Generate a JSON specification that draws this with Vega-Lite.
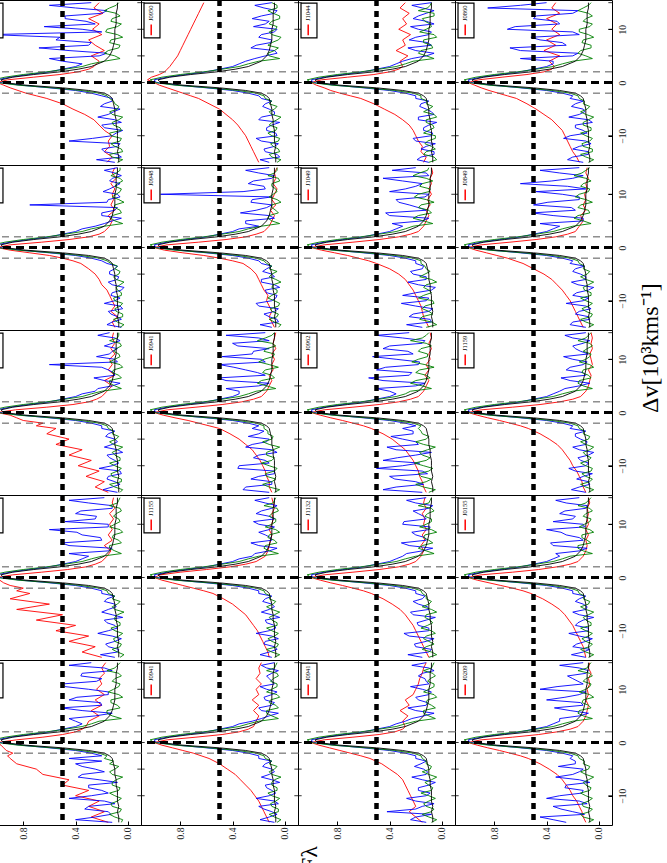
{
"$schema": "https://vega.github.io/schema/vega-lite/v6.json",
"padding": {"left": -18, "top": -3, "right": 0, "bottom": 0},
"background": "white",
"config": {"font": "Liberation Serif", "view": {"stroke": "black", "strokeWidth": 1}, "axis": {"grid": false, "domain": false, "labelFont": "Liberation Serif", "labelColor": "#222", "tickColor": "black", "labelFlush": false}},
"datasets": {
"names": [{"p":1,"n":"J0233"},{"p":2,"n":"J0950"},{"p":3,"n":"J1044"},{"p":4,"n":"J0860"},{"p":5,"n":"J0944"},{"p":6,"n":"J0948"},{"p":7,"n":"J1049"},{"p":8,"n":"J0849"},{"p":9,"n":"J0944"},{"p":10,"n":"J0941"},{"p":11,"n":"J0962"},{"p":12,"n":"J1159"},{"p":13,"n":"J1108"},{"p":14,"n":"J1155"},{"p":15,"n":"J1132"},{"p":16,"n":"J0155"},{"p":17,"n":"J1108"},{"p":18,"n":"J0941"},{"p":19,"n":"J0941"},{"p":20,"n":"J0209"}],
"spectra": [
{"p":1,"v":-15,"R":0.16,"B":0.1,"G":0.08,"K":0.07},{"p":1,"v":-14,"R":0.12,"B":0.05,"G":0.12,"K":0.07},{"p":1,"v":-13,"R":0.18,"B":0.18,"G":0.04,"K":0.08},{"p":1,"v":-12,"R":0.14,"B":0.08,"G":0.1,"K":0.07},{"p":1,"v":-11,"R":0.15,"B":0.45,"G":0.06,"K":0.08},{"p":1,"v":-10,"R":0.12,"B":0.12,"G":0.13,"K":0.08},{"p":1,"v":-9,"R":0.18,"B":0.04,"G":0.05,"K":0.08},{"p":1,"v":-8,"R":0.22,"B":0.2,"G":0.11,"K":0.09},{"p":1,"v":-7,"R":0.26,"B":0.1,"G":0.07,"K":0.09},{"p":1,"v":-6,"R":0.33,"B":0.15,"G":0.12,"K":0.1},{"p":1,"v":-5,"R":0.42,"B":0.06,"G":0.08,"K":0.1},{"p":1,"v":-4,"R":0.5,"B":0.18,"G":0.1,"K":0.11},{"p":1,"v":-3,"R":0.62,"B":0.12,"G":0.14,"K":0.12},
{"p":1,"v":-2.5,"R":0.7,"B":0.2,"G":0.16,"K":0.14},{"p":1,"v":-2,"R":0.78,"B":0.28,"G":0.22,"K":0.18},{"p":1,"v":-1.5,"R":0.84,"B":0.4,"G":0.36,"K":0.3},{"p":1,"v":-1,"R":0.9,"B":0.6,"G":0.58,"K":0.5},{"p":1,"v":-0.5,"R":0.95,"B":0.82,"G":0.84,"K":0.78},{"p":1,"v":0,"R":1.0,"B":0.98,"G":1.0,"K":0.95},{"p":1,"v":0.5,"R":0.92,"B":1.0,"G":1.03,"K":0.97},{"p":1,"v":1,"R":0.72,"B":0.9,"G":0.94,"K":0.88},{"p":1,"v":1.5,"R":0.52,"B":0.76,"G":0.8,"K":0.72},{"p":1,"v":2,"R":0.38,"B":0.6,"G":0.62,"K":0.52},{"p":1,"v":2.5,"R":0.3,"B":0.5,"G":0.48,"K":0.38},{"p":1,"v":3,"R":0.26,"B":0.4,"G":0.35,"K":0.28},
{"p":1,"v":4,"R":0.22,"B":0.5,"G":0.18,"K":0.18},{"p":1,"v":5,"R":0.28,"B":0.22,"G":0.1,"K":0.14},{"p":1,"v":6,"R":0.18,"B":0.45,"G":0.15,"K":0.12},{"p":1,"v":7,"R":0.25,"B":0.3,"G":0.06,"K":0.11},{"p":1,"v":8,"R":0.3,"B":0.55,"G":0.13,"K":0.1},{"p":1,"v":9,"R":0.2,"B":1.05,"G":0.08,"K":0.1},{"p":1,"v":10,"R":0.27,"B":0.35,"G":0.16,"K":0.1},{"p":1,"v":11,"R":0.22,"B":0.25,"G":0.05,"K":0.09},{"p":1,"v":12,"R":0.3,"B":0.48,"G":0.12,"K":0.09},{"p":1,"v":13,"R":0.19,"B":0.2,"G":0.09,"K":0.09},{"p":1,"v":14,"R":0.26,"B":0.4,"G":0.14,"K":0.08},{"p":1,"v":15,"R":0.22,"B":0.28,"G":0.07,"K":0.08},
{"p":2,"v":-15,"R":0.2,"B":0.12,"G":0.06,"K":0.07},{"p":2,"v":-14,"R":0.22,"B":0.04,"G":0.1,"K":0.07},{"p":2,"v":-13,"R":0.24,"B":0.15,"G":0.04,"K":0.08},{"p":2,"v":-12,"R":0.26,"B":0.08,"G":0.09,"K":0.07},{"p":2,"v":-11,"R":0.28,"B":0.18,"G":0.05,"K":0.08},{"p":2,"v":-10,"R":0.3,"B":0.06,"G":0.1,"K":0.08},{"p":2,"v":-9,"R":0.33,"B":0.14,"G":0.07,"K":0.08},{"p":2,"v":-8,"R":0.36,"B":0.1,"G":0.12,"K":0.09},{"p":2,"v":-7,"R":0.4,"B":0.2,"G":0.06,"K":0.09},{"p":2,"v":-6,"R":0.45,"B":0.08,"G":0.1,"K":0.1},{"p":2,"v":-5,"R":0.5,"B":0.12,"G":0.08,"K":0.1},{"p":2,"v":-4,"R":0.58,"B":0.15,"G":0.12,"K":0.11},{"p":2,"v":-3,"R":0.66,"B":0.18,"G":0.15,"K":0.12},
{"p":2,"v":-2.5,"R":0.72,"B":0.2,"G":0.16,"K":0.14},{"p":2,"v":-2,"R":0.78,"B":0.28,"G":0.22,"K":0.18},{"p":2,"v":-1.5,"R":0.84,"B":0.4,"G":0.36,"K":0.3},{"p":2,"v":-1,"R":0.9,"B":0.6,"G":0.58,"K":0.5},{"p":2,"v":-0.5,"R":0.96,"B":0.82,"G":0.84,"K":0.78},{"p":2,"v":0,"R":1.0,"B":0.98,"G":1.0,"K":0.95},{"p":2,"v":0.5,"R":1.05,"B":1.0,"G":1.03,"K":0.97},{"p":2,"v":1,"R":1.02,"B":0.9,"G":0.94,"K":0.88},{"p":2,"v":1.5,"R":0.96,"B":0.76,"G":0.8,"K":0.72},{"p":2,"v":2,"R":0.92,"B":0.6,"G":0.62,"K":0.52},{"p":2,"v":2.5,"R":0.9,"B":0.5,"G":0.48,"K":0.38},{"p":2,"v":3,"R":0.88,"B":0.4,"G":0.35,"K":0.28},
{"p":2,"v":4,"R":0.85,"B":0.3,"G":0.2,"K":0.18},{"p":2,"v":5,"R":0.82,"B":0.15,"G":0.12,"K":0.14},{"p":2,"v":6,"R":0.8,"B":0.08,"G":0.08,"K":0.12},{"p":2,"v":7,"R":0.78,"B":0.22,"G":0.13,"K":0.11},{"p":2,"v":8,"R":0.76,"B":0.1,"G":0.05,"K":0.1},{"p":2,"v":9,"R":0.74,"B":0.18,"G":0.1,"K":0.1},{"p":2,"v":10,"R":0.72,"B":0.06,"G":0.07,"K":0.1},{"p":2,"v":11,"R":0.7,"B":0.15,"G":0.12,"K":0.09},{"p":2,"v":12,"R":0.68,"B":0.25,"G":0.04,"K":0.09},{"p":2,"v":13,"R":0.66,"B":0.08,"G":0.09,"K":0.09},{"p":2,"v":14,"R":0.64,"B":0.16,"G":0.06,"K":0.08},{"p":2,"v":15,"R":0.62,"B":0.1,"G":0.1,"K":0.08},
{"p":3,"v":-15,"R":0.14,"B":0.1,"G":0.1,"K":0.07},{"p":3,"v":-14,"R":0.12,"B":0.16,"G":0.06,"K":0.07},{"p":3,"v":-13,"R":0.16,"B":0.06,"G":0.12,"K":0.08},{"p":3,"v":-12,"R":0.15,"B":0.12,"G":0.08,"K":0.07},{"p":3,"v":-11,"R":0.18,"B":0.2,"G":0.11,"K":0.08},{"p":3,"v":-10,"R":0.2,"B":0.08,"G":0.05,"K":0.08},{"p":3,"v":-9,"R":0.22,"B":0.14,"G":0.1,"K":0.08},{"p":3,"v":-8,"R":0.25,"B":0.1,"G":0.07,"K":0.09},{"p":3,"v":-7,"R":0.3,"B":0.18,"G":0.12,"K":0.09},{"p":3,"v":-6,"R":0.36,"B":0.06,"G":0.06,"K":0.1},{"p":3,"v":-5,"R":0.44,"B":0.12,"G":0.1,"K":0.1},{"p":3,"v":-4,"R":0.52,"B":0.16,"G":0.12,"K":0.11},{"p":3,"v":-3,"R":0.62,"B":0.2,"G":0.16,"K":0.12},
{"p":3,"v":-2.5,"R":0.7,"B":0.2,"G":0.16,"K":0.14},{"p":3,"v":-2,"R":0.78,"B":0.28,"G":0.22,"K":0.18},{"p":3,"v":-1.5,"R":0.85,"B":0.4,"G":0.36,"K":0.3},{"p":3,"v":-1,"R":0.9,"B":0.6,"G":0.58,"K":0.5},{"p":3,"v":-0.5,"R":0.96,"B":0.82,"G":0.84,"K":0.78},{"p":3,"v":0,"R":1.0,"B":0.98,"G":1.0,"K":0.95},{"p":3,"v":0.5,"R":0.92,"B":1.0,"G":1.03,"K":0.97},{"p":3,"v":1,"R":0.72,"B":0.9,"G":0.94,"K":0.88},{"p":3,"v":1.5,"R":0.52,"B":0.76,"G":0.8,"K":0.72},{"p":3,"v":2,"R":0.4,"B":0.6,"G":0.62,"K":0.52},{"p":3,"v":2.5,"R":0.33,"B":0.5,"G":0.48,"K":0.38},{"p":3,"v":3,"R":0.3,"B":0.4,"G":0.35,"K":0.28},
{"p":3,"v":4,"R":0.32,"B":0.3,"G":0.22,"K":0.18},{"p":3,"v":5,"R":0.26,"B":0.12,"G":0.12,"K":0.14},{"p":3,"v":6,"R":0.35,"B":0.2,"G":0.16,"K":0.12},{"p":3,"v":7,"R":0.28,"B":0.08,"G":0.08,"K":0.11},{"p":3,"v":8,"R":0.3,"B":0.25,"G":0.14,"K":0.1},{"p":3,"v":9,"R":0.24,"B":0.1,"G":0.06,"K":0.1},{"p":3,"v":10,"R":0.33,"B":0.18,"G":0.12,"K":0.1},{"p":3,"v":11,"R":0.27,"B":0.06,"G":0.09,"K":0.09},{"p":3,"v":12,"R":0.3,"B":0.22,"G":0.15,"K":0.09},{"p":3,"v":13,"R":0.25,"B":0.12,"G":0.06,"K":0.09},{"p":3,"v":14,"R":0.32,"B":0.15,"G":0.11,"K":0.08},{"p":3,"v":15,"R":0.28,"B":0.08,"G":0.08,"K":0.08},
{"p":4,"v":-15,"R":0.15,"B":0.12,"G":0.08,"K":0.07},{"p":4,"v":-14,"R":0.17,"B":0.2,"G":0.1,"K":0.07},{"p":4,"v":-13,"R":0.2,"B":0.08,"G":0.05,"K":0.08},{"p":4,"v":-12,"R":0.22,"B":0.15,"G":0.12,"K":0.07},{"p":4,"v":-11,"R":0.24,"B":0.1,"G":0.07,"K":0.08},{"p":4,"v":-10,"R":0.26,"B":0.22,"G":0.1,"K":0.08},{"p":4,"v":-9,"R":0.28,"B":0.12,"G":0.06,"K":0.08},{"p":4,"v":-8,"R":0.32,"B":0.18,"G":0.12,"K":0.09},{"p":4,"v":-7,"R":0.36,"B":0.08,"G":0.08,"K":0.09},{"p":4,"v":-6,"R":0.42,"B":0.15,"G":0.1,"K":0.1},{"p":4,"v":-5,"R":0.48,"B":0.12,"G":0.09,"K":0.1},{"p":4,"v":-4,"R":0.55,"B":0.18,"G":0.12,"K":0.11},{"p":4,"v":-3,"R":0.63,"B":0.22,"G":0.15,"K":0.12},
{"p":4,"v":-2.5,"R":0.7,"B":0.2,"G":0.16,"K":0.14},{"p":4,"v":-2,"R":0.77,"B":0.28,"G":0.22,"K":0.18},{"p":4,"v":-1.5,"R":0.84,"B":0.4,"G":0.36,"K":0.3},{"p":4,"v":-1,"R":0.9,"B":0.6,"G":0.58,"K":0.5},{"p":4,"v":-0.5,"R":0.95,"B":0.82,"G":0.84,"K":0.78},{"p":4,"v":0,"R":1.0,"B":0.98,"G":1.0,"K":0.95},{"p":4,"v":0.5,"R":0.92,"B":1.0,"G":1.03,"K":0.97},{"p":4,"v":1,"R":0.74,"B":0.9,"G":0.94,"K":0.88},{"p":4,"v":1.5,"R":0.55,"B":0.76,"G":0.8,"K":0.72},{"p":4,"v":2,"R":0.42,"B":0.6,"G":0.62,"K":0.52},{"p":4,"v":2.5,"R":0.36,"B":0.5,"G":0.48,"K":0.38},{"p":4,"v":3,"R":0.34,"B":0.4,"G":0.35,"K":0.28},
{"p":4,"v":4,"R":0.38,"B":0.35,"G":0.2,"K":0.18},{"p":4,"v":5,"R":0.3,"B":0.2,"G":0.1,"K":0.14},{"p":4,"v":6,"R":0.42,"B":0.6,"G":0.14,"K":0.12},{"p":4,"v":7,"R":0.33,"B":0.25,"G":0.06,"K":0.11},{"p":4,"v":8,"R":0.4,"B":0.45,"G":0.12,"K":0.1},{"p":4,"v":9,"R":0.3,"B":0.15,"G":0.08,"K":0.1},{"p":4,"v":10,"R":0.36,"B":0.7,"G":0.15,"K":0.1},{"p":4,"v":11,"R":0.32,"B":0.3,"G":0.05,"K":0.09},{"p":4,"v":12,"R":0.4,"B":0.5,"G":0.1,"K":0.09},{"p":4,"v":13,"R":0.3,"B":0.2,"G":0.08,"K":0.09},{"p":4,"v":14,"R":0.36,"B":0.85,"G":0.12,"K":0.08},{"p":4,"v":15,"R":0.33,"B":0.4,"G":0.06,"K":0.08},
{"p":5,"v":-15,"R":0.1,"B":0.05,"G":0.06,"K":0.07},{"p":5,"v":-14,"R":0.12,"B":0.12,"G":0.08,"K":0.07},{"p":5,"v":-13,"R":0.08,"B":0.08,"G":0.04,"K":0.08},{"p":5,"v":-12,"R":0.13,"B":0.15,"G":0.09,"K":0.07},{"p":5,"v":-11,"R":0.1,"B":0.06,"G":0.06,"K":0.08},{"p":5,"v":-10,"R":0.12,"B":0.1,"G":0.1,"K":0.08},{"p":5,"v":-9,"R":0.14,"B":0.13,"G":0.05,"K":0.08},{"p":5,"v":-8,"R":0.16,"B":0.05,"G":0.08,"K":0.09},{"p":5,"v":-7,"R":0.2,"B":0.12,"G":0.06,"K":0.09},{"p":5,"v":-6,"R":0.22,"B":0.08,"G":0.09,"K":0.1},{"p":5,"v":-5,"R":0.25,"B":0.14,"G":0.07,"K":0.1},{"p":5,"v":-4,"R":0.3,"B":0.1,"G":0.1,"K":0.11},{"p":5,"v":-3,"R":0.36,"B":0.16,"G":0.13,"K":0.12},
{"p":5,"v":-2.5,"R":0.42,"B":0.2,"G":0.16,"K":0.14},{"p":5,"v":-2,"R":0.5,"B":0.28,"G":0.22,"K":0.18},{"p":5,"v":-1.5,"R":0.6,"B":0.4,"G":0.36,"K":0.3},{"p":5,"v":-1,"R":0.75,"B":0.6,"G":0.58,"K":0.5},{"p":5,"v":-0.5,"R":0.9,"B":0.82,"G":0.84,"K":0.78},{"p":5,"v":0,"R":1.0,"B":0.98,"G":1.0,"K":0.95},{"p":5,"v":0.5,"R":0.9,"B":1.0,"G":1.03,"K":0.97},{"p":5,"v":1,"R":0.66,"B":0.9,"G":0.94,"K":0.88},{"p":5,"v":1.5,"R":0.45,"B":0.76,"G":0.8,"K":0.72},{"p":5,"v":2,"R":0.3,"B":0.6,"G":0.62,"K":0.52},{"p":5,"v":2.5,"R":0.22,"B":0.5,"G":0.48,"K":0.38},{"p":5,"v":3,"R":0.18,"B":0.4,"G":0.35,"K":0.28},
{"p":5,"v":4,"R":0.14,"B":0.25,"G":0.18,"K":0.18},{"p":5,"v":5,"R":0.12,"B":0.12,"G":0.1,"K":0.14},{"p":5,"v":6,"R":0.15,"B":0.2,"G":0.12,"K":0.12},{"p":5,"v":7,"R":0.1,"B":0.1,"G":0.06,"K":0.11},{"p":5,"v":8,"R":0.13,"B":0.75,"G":0.1,"K":0.1},{"p":5,"v":9,"R":0.11,"B":0.15,"G":0.07,"K":0.1},{"p":5,"v":10,"R":0.12,"B":0.08,"G":0.09,"K":0.1},{"p":5,"v":11,"R":0.1,"B":0.14,"G":0.05,"K":0.09},{"p":5,"v":12,"R":0.13,"B":0.06,"G":0.08,"K":0.09},{"p":5,"v":13,"R":0.09,"B":0.12,"G":0.06,"K":0.09},{"p":5,"v":14,"R":0.12,"B":0.1,"G":0.09,"K":0.08},{"p":5,"v":15,"R":0.1,"B":0.08,"G":0.06,"K":0.08},
{"p":6,"v":-15,"R":0.08,"B":0.1,"G":0.05,"K":0.07},{"p":6,"v":-14,"R":0.1,"B":0.05,"G":0.08,"K":0.07},{"p":6,"v":-13,"R":0.12,"B":0.12,"G":0.06,"K":0.08},{"p":6,"v":-12,"R":0.1,"B":0.08,"G":0.1,"K":0.07},{"p":6,"v":-11,"R":0.12,"B":0.2,"G":0.05,"K":0.08},{"p":6,"v":-10,"R":0.14,"B":0.1,"G":0.08,"K":0.08},{"p":6,"v":-9,"R":0.13,"B":0.06,"G":0.1,"K":0.08},{"p":6,"v":-8,"R":0.16,"B":0.15,"G":0.06,"K":0.09},{"p":6,"v":-7,"R":0.18,"B":0.08,"G":0.09,"K":0.09},{"p":6,"v":-6,"R":0.2,"B":0.18,"G":0.07,"K":0.1},{"p":6,"v":-5,"R":0.22,"B":0.1,"G":0.1,"K":0.1},{"p":6,"v":-4,"R":0.26,"B":0.14,"G":0.12,"K":0.11},{"p":6,"v":-3,"R":0.32,"B":0.18,"G":0.14,"K":0.12},
{"p":6,"v":-2.5,"R":0.4,"B":0.2,"G":0.16,"K":0.14},{"p":6,"v":-2,"R":0.5,"B":0.28,"G":0.22,"K":0.18},{"p":6,"v":-1.5,"R":0.62,"B":0.4,"G":0.36,"K":0.3},{"p":6,"v":-1,"R":0.78,"B":0.6,"G":0.58,"K":0.5},{"p":6,"v":-0.5,"R":0.92,"B":0.82,"G":0.84,"K":0.78},{"p":6,"v":0,"R":1.0,"B":0.98,"G":1.0,"K":0.95},{"p":6,"v":0.5,"R":0.9,"B":1.0,"G":1.03,"K":0.97},{"p":6,"v":1,"R":0.66,"B":0.9,"G":0.94,"K":0.88},{"p":6,"v":1.5,"R":0.45,"B":0.76,"G":0.8,"K":0.72},{"p":6,"v":2,"R":0.3,"B":0.6,"G":0.62,"K":0.52},{"p":6,"v":2.5,"R":0.22,"B":0.5,"G":0.48,"K":0.38},{"p":6,"v":3,"R":0.16,"B":0.4,"G":0.35,"K":0.28},
{"p":6,"v":4,"R":0.12,"B":0.2,"G":0.18,"K":0.18},{"p":6,"v":5,"R":0.1,"B":0.3,"G":0.1,"K":0.14},{"p":6,"v":6,"R":0.08,"B":0.12,"G":0.12,"K":0.12},{"p":6,"v":7,"R":0.11,"B":0.22,"G":0.07,"K":0.11},{"p":6,"v":8,"R":0.07,"B":0.1,"G":0.1,"K":0.1},{"p":6,"v":9,"R":0.1,"B":0.25,"G":0.06,"K":0.1},{"p":6,"v":10,"R":0.08,"B":0.95,"G":0.09,"K":0.1},{"p":6,"v":11,"R":0.06,"B":0.15,"G":0.07,"K":0.09},{"p":6,"v":12,"R":0.09,"B":0.28,"G":0.1,"K":0.09},{"p":6,"v":13,"R":0.07,"B":0.1,"G":0.05,"K":0.09},{"p":6,"v":14,"R":0.08,"B":0.2,"G":0.08,"K":0.08},{"p":6,"v":15,"R":0.06,"B":0.12,"G":0.06,"K":0.08},
{"p":7,"v":-15,"R":0.1,"B":0.15,"G":0.12,"K":0.07},{"p":7,"v":-14,"R":0.12,"B":0.08,"G":0.08,"K":0.07},{"p":7,"v":-13,"R":0.14,"B":0.25,"G":0.15,"K":0.08},{"p":7,"v":-12,"R":0.15,"B":0.1,"G":0.1,"K":0.07},{"p":7,"v":-11,"R":0.16,"B":0.2,"G":0.13,"K":0.08},{"p":7,"v":-10,"R":0.18,"B":0.12,"G":0.07,"K":0.08},{"p":7,"v":-9,"R":0.2,"B":0.3,"G":0.14,"K":0.08},{"p":7,"v":-8,"R":0.22,"B":0.08,"G":0.1,"K":0.09},{"p":7,"v":-7,"R":0.25,"B":0.18,"G":0.12,"K":0.09},{"p":7,"v":-6,"R":0.28,"B":0.12,"G":0.08,"K":0.1},{"p":7,"v":-5,"R":0.33,"B":0.22,"G":0.13,"K":0.1},{"p":7,"v":-4,"R":0.4,"B":0.15,"G":0.12,"K":0.11},{"p":7,"v":-3,"R":0.5,"B":0.2,"G":0.16,"K":0.12},
{"p":7,"v":-2.5,"R":0.56,"B":0.2,"G":0.16,"K":0.14},{"p":7,"v":-2,"R":0.64,"B":0.28,"G":0.22,"K":0.18},{"p":7,"v":-1.5,"R":0.72,"B":0.4,"G":0.36,"K":0.3},{"p":7,"v":-1,"R":0.82,"B":0.6,"G":0.58,"K":0.5},{"p":7,"v":-0.5,"R":0.92,"B":0.82,"G":0.84,"K":0.78},{"p":7,"v":0,"R":1.0,"B":0.98,"G":1.0,"K":0.95},{"p":7,"v":0.5,"R":0.9,"B":1.0,"G":1.03,"K":0.97},{"p":7,"v":1,"R":0.68,"B":0.9,"G":0.94,"K":0.88},{"p":7,"v":1.5,"R":0.48,"B":0.76,"G":0.8,"K":0.72},{"p":7,"v":2,"R":0.33,"B":0.6,"G":0.62,"K":0.52},{"p":7,"v":2.5,"R":0.24,"B":0.5,"G":0.48,"K":0.38},{"p":7,"v":3,"R":0.18,"B":0.4,"G":0.35,"K":0.28},
{"p":7,"v":4,"R":0.14,"B":0.3,"G":0.22,"K":0.18},{"p":7,"v":5,"R":0.12,"B":0.15,"G":0.14,"K":0.14},{"p":7,"v":6,"R":0.1,"B":0.4,"G":0.18,"K":0.12},{"p":7,"v":7,"R":0.12,"B":0.12,"G":0.1,"K":0.11},{"p":7,"v":8,"R":0.09,"B":0.25,"G":0.16,"K":0.1},{"p":7,"v":9,"R":0.11,"B":0.35,"G":0.12,"K":0.1},{"p":7,"v":10,"R":0.08,"B":0.1,"G":0.18,"K":0.1},{"p":7,"v":11,"R":0.1,"B":0.28,"G":0.09,"K":0.09},{"p":7,"v":12,"R":0.08,"B":0.15,"G":0.15,"K":0.09},{"p":7,"v":13,"R":0.09,"B":0.45,"G":0.12,"K":0.09},{"p":7,"v":14,"R":0.07,"B":0.12,"G":0.17,"K":0.08},{"p":7,"v":15,"R":0.08,"B":0.2,"G":0.1,"K":0.08},
{"p":8,"v":-15,"R":0.12,"B":0.1,"G":0.08,"K":0.07},{"p":8,"v":-14,"R":0.14,"B":0.2,"G":0.1,"K":0.07},{"p":8,"v":-13,"R":0.16,"B":0.08,"G":0.06,"K":0.08},{"p":8,"v":-12,"R":0.18,"B":0.15,"G":0.1,"K":0.07},{"p":8,"v":-11,"R":0.2,"B":0.1,"G":0.08,"K":0.08},{"p":8,"v":-10,"R":0.22,"B":0.12,"G":0.1,"K":0.08},{"p":8,"v":-9,"R":0.25,"B":0.2,"G":0.06,"K":0.08},{"p":8,"v":-8,"R":0.28,"B":0.08,"G":0.11,"K":0.09},{"p":8,"v":-7,"R":0.32,"B":0.16,"G":0.08,"K":0.09},{"p":8,"v":-6,"R":0.36,"B":0.1,"G":0.1,"K":0.1},{"p":8,"v":-5,"R":0.42,"B":0.14,"G":0.09,"K":0.1},{"p":8,"v":-4,"R":0.5,"B":0.18,"G":0.12,"K":0.11},{"p":8,"v":-3,"R":0.58,"B":0.22,"G":0.15,"K":0.12},
{"p":8,"v":-2.5,"R":0.64,"B":0.2,"G":0.16,"K":0.14},{"p":8,"v":-2,"R":0.7,"B":0.28,"G":0.22,"K":0.18},{"p":8,"v":-1.5,"R":0.78,"B":0.4,"G":0.36,"K":0.3},{"p":8,"v":-1,"R":0.86,"B":0.6,"G":0.58,"K":0.5},{"p":8,"v":-0.5,"R":0.94,"B":0.82,"G":0.84,"K":0.78},{"p":8,"v":0,"R":1.0,"B":0.98,"G":1.0,"K":0.95},{"p":8,"v":0.5,"R":0.9,"B":1.0,"G":1.03,"K":0.97},{"p":8,"v":1,"R":0.68,"B":0.9,"G":0.94,"K":0.88},{"p":8,"v":1.5,"R":0.48,"B":0.76,"G":0.8,"K":0.72},{"p":8,"v":2,"R":0.33,"B":0.6,"G":0.62,"K":0.52},{"p":8,"v":2.5,"R":0.24,"B":0.5,"G":0.48,"K":0.38},{"p":8,"v":3,"R":0.18,"B":0.4,"G":0.35,"K":0.28},
{"p":8,"v":4,"R":0.15,"B":0.3,"G":0.2,"K":0.18},{"p":8,"v":5,"R":0.12,"B":0.12,"G":0.12,"K":0.14},{"p":8,"v":6,"R":0.14,"B":0.35,"G":0.16,"K":0.12},{"p":8,"v":7,"R":0.1,"B":0.18,"G":0.08,"K":0.11},{"p":8,"v":8,"R":0.12,"B":0.5,"G":0.14,"K":0.1},{"p":8,"v":9,"R":0.1,"B":0.15,"G":0.1,"K":0.1},{"p":8,"v":10,"R":0.11,"B":0.28,"G":0.15,"K":0.1},{"p":8,"v":11,"R":0.09,"B":0.1,"G":0.07,"K":0.09},{"p":8,"v":12,"R":0.1,"B":0.6,"G":0.12,"K":0.09},{"p":8,"v":13,"R":0.08,"B":0.2,"G":0.1,"K":0.09},{"p":8,"v":14,"R":0.1,"B":0.3,"G":0.13,"K":0.08},{"p":8,"v":15,"R":0.09,"B":0.15,"G":0.07,"K":0.08},
{"p":9,"v":-15,"R":0.15,"B":0.08,"G":0.06,"K":0.07},{"p":9,"v":-14,"R":0.25,"B":0.12,"G":0.1,"K":0.07},{"p":9,"v":-13,"R":0.18,"B":0.1,"G":0.05,"K":0.08},{"p":9,"v":-12,"R":0.32,"B":0.15,"G":0.12,"K":0.07},{"p":9,"v":-11,"R":0.22,"B":0.06,"G":0.08,"K":0.08},{"p":9,"v":-10,"R":0.38,"B":0.12,"G":0.1,"K":0.08},{"p":9,"v":-9,"R":0.28,"B":0.1,"G":0.06,"K":0.08},{"p":9,"v":-8,"R":0.45,"B":0.16,"G":0.1,"K":0.09},{"p":9,"v":-7,"R":0.35,"B":0.08,"G":0.08,"K":0.09},{"p":9,"v":-6,"R":0.55,"B":0.12,"G":0.11,"K":0.1},{"p":9,"v":-5,"R":0.45,"B":0.1,"G":0.09,"K":0.1},{"p":9,"v":-4,"R":0.62,"B":0.15,"G":0.12,"K":0.11},{"p":9,"v":-3,"R":0.55,"B":0.2,"G":0.15,"K":0.12},
{"p":9,"v":-2.5,"R":0.7,"B":0.2,"G":0.16,"K":0.14},{"p":9,"v":-2,"R":0.65,"B":0.28,"G":0.22,"K":0.18},{"p":9,"v":-1.5,"R":0.8,"B":0.4,"G":0.36,"K":0.3},{"p":9,"v":-1,"R":0.85,"B":0.6,"G":0.58,"K":0.5},{"p":9,"v":-0.5,"R":0.9,"B":0.82,"G":0.84,"K":0.78},{"p":9,"v":0,"R":1.0,"B":0.98,"G":1.0,"K":0.95},{"p":9,"v":0.5,"R":0.86,"B":1.0,"G":1.03,"K":0.97},{"p":9,"v":1,"R":0.62,"B":0.9,"G":0.94,"K":0.88},{"p":9,"v":1.5,"R":0.42,"B":0.76,"G":0.8,"K":0.72},{"p":9,"v":2,"R":0.3,"B":0.6,"G":0.62,"K":0.52},{"p":9,"v":2.5,"R":0.24,"B":0.5,"G":0.48,"K":0.38},{"p":9,"v":3,"R":0.2,"B":0.4,"G":0.35,"K":0.28},
{"p":9,"v":4,"R":0.16,"B":0.25,"G":0.2,"K":0.18},{"p":9,"v":5,"R":0.12,"B":0.12,"G":0.1,"K":0.14},{"p":9,"v":6,"R":0.18,"B":0.18,"G":0.14,"K":0.12},{"p":9,"v":7,"R":0.1,"B":0.1,"G":0.07,"K":0.11},{"p":9,"v":8,"R":0.15,"B":0.15,"G":0.11,"K":0.1},{"p":9,"v":9,"R":0.12,"B":0.6,"G":0.06,"K":0.1},{"p":9,"v":10,"R":0.14,"B":0.1,"G":0.1,"K":0.1},{"p":9,"v":11,"R":0.1,"B":0.14,"G":0.07,"K":0.09},{"p":9,"v":12,"R":0.13,"B":0.08,"G":0.09,"K":0.09},{"p":9,"v":13,"R":0.1,"B":0.12,"G":0.06,"K":0.09},{"p":9,"v":14,"R":0.12,"B":0.1,"G":0.08,"K":0.08},{"p":9,"v":15,"R":0.11,"B":0.14,"G":0.07,"K":0.08},
{"p":10,"v":-15,"R":0.1,"B":0.12,"G":0.08,"K":0.07},{"p":10,"v":-14,"R":0.12,"B":0.3,"G":0.12,"K":0.07},{"p":10,"v":-13,"R":0.12,"B":0.1,"G":0.1,"K":0.08},{"p":10,"v":-12,"R":0.14,"B":0.2,"G":0.14,"K":0.07},{"p":10,"v":-11,"R":0.15,"B":0.08,"G":0.08,"K":0.08},{"p":10,"v":-10,"R":0.17,"B":0.35,"G":0.12,"K":0.08},{"p":10,"v":-9,"R":0.19,"B":0.15,"G":0.1,"K":0.08},{"p":10,"v":-8,"R":0.22,"B":0.2,"G":0.14,"K":0.09},{"p":10,"v":-7,"R":0.25,"B":0.1,"G":0.09,"K":0.09},{"p":10,"v":-6,"R":0.3,"B":0.25,"G":0.12,"K":0.1},{"p":10,"v":-5,"R":0.35,"B":0.12,"G":0.1,"K":0.1},{"p":10,"v":-4,"R":0.42,"B":0.2,"G":0.13,"K":0.11},{"p":10,"v":-3,"R":0.5,"B":0.25,"G":0.16,"K":0.12},
{"p":10,"v":-2.5,"R":0.58,"B":0.2,"G":0.16,"K":0.14},{"p":10,"v":-2,"R":0.66,"B":0.28,"G":0.22,"K":0.18},{"p":10,"v":-1.5,"R":0.74,"B":0.4,"G":0.36,"K":0.3},{"p":10,"v":-1,"R":0.84,"B":0.6,"G":0.58,"K":0.5},{"p":10,"v":-0.5,"R":0.93,"B":0.82,"G":0.84,"K":0.78},{"p":10,"v":0,"R":1.0,"B":0.98,"G":1.0,"K":0.95},{"p":10,"v":0.5,"R":0.9,"B":1.0,"G":1.03,"K":0.97},{"p":10,"v":1,"R":0.68,"B":0.9,"G":0.94,"K":0.88},{"p":10,"v":1.5,"R":0.48,"B":0.76,"G":0.8,"K":0.72},{"p":10,"v":2,"R":0.33,"B":0.6,"G":0.62,"K":0.52},{"p":10,"v":2.5,"R":0.24,"B":0.5,"G":0.48,"K":0.38},{"p":10,"v":3,"R":0.18,"B":0.4,"G":0.35,"K":0.28},
{"p":10,"v":4,"R":0.14,"B":0.35,"G":0.22,"K":0.18},{"p":10,"v":5,"R":0.12,"B":0.2,"G":0.14,"K":0.14},{"p":10,"v":6,"R":0.1,"B":0.45,"G":0.18,"K":0.12},{"p":10,"v":7,"R":0.12,"B":0.15,"G":0.1,"K":0.11},{"p":10,"v":8,"R":0.09,"B":0.3,"G":0.15,"K":0.1},{"p":10,"v":9,"R":0.1,"B":0.5,"G":0.12,"K":0.1},{"p":10,"v":10,"R":0.08,"B":0.18,"G":0.16,"K":0.1},{"p":10,"v":11,"R":0.1,"B":0.25,"G":0.08,"K":0.09},{"p":10,"v":12,"R":0.07,"B":0.12,"G":0.14,"K":0.09},{"p":10,"v":13,"R":0.09,"B":0.4,"G":0.1,"K":0.09},{"p":10,"v":14,"R":0.08,"B":0.2,"G":0.15,"K":0.08},{"p":10,"v":15,"R":0.07,"B":0.15,"G":0.08,"K":0.08},
{"p":11,"v":-15,"R":0.12,"B":0.15,"G":0.1,"K":0.07},{"p":11,"v":-14,"R":0.14,"B":0.35,"G":0.14,"K":0.07},{"p":11,"v":-13,"R":0.15,"B":0.2,"G":0.12,"K":0.08},{"p":11,"v":-12,"R":0.17,"B":0.4,"G":0.16,"K":0.07},{"p":11,"v":-11,"R":0.18,"B":0.15,"G":0.1,"K":0.08},{"p":11,"v":-10,"R":0.2,"B":0.3,"G":0.14,"K":0.08},{"p":11,"v":-9,"R":0.22,"B":0.45,"G":0.12,"K":0.08},{"p":11,"v":-8,"R":0.25,"B":0.2,"G":0.15,"K":0.09},{"p":11,"v":-7,"R":0.28,"B":0.35,"G":0.11,"K":0.09},{"p":11,"v":-6,"R":0.33,"B":0.18,"G":0.14,"K":0.1},{"p":11,"v":-5,"R":0.38,"B":0.3,"G":0.12,"K":0.1},{"p":11,"v":-4,"R":0.45,"B":0.22,"G":0.15,"K":0.11},{"p":11,"v":-3,"R":0.54,"B":0.3,"G":0.18,"K":0.12},
{"p":11,"v":-2.5,"R":0.6,"B":0.2,"G":0.16,"K":0.14},{"p":11,"v":-2,"R":0.68,"B":0.28,"G":0.22,"K":0.18},{"p":11,"v":-1.5,"R":0.76,"B":0.4,"G":0.36,"K":0.3},{"p":11,"v":-1,"R":0.85,"B":0.6,"G":0.58,"K":0.5},{"p":11,"v":-0.5,"R":0.93,"B":0.82,"G":0.84,"K":0.78},{"p":11,"v":0,"R":1.0,"B":0.98,"G":1.0,"K":0.95},{"p":11,"v":0.5,"R":0.9,"B":1.0,"G":1.03,"K":0.97},{"p":11,"v":1,"R":0.68,"B":0.9,"G":0.94,"K":0.88},{"p":11,"v":1.5,"R":0.48,"B":0.76,"G":0.8,"K":0.72},{"p":11,"v":2,"R":0.33,"B":0.6,"G":0.62,"K":0.52},{"p":11,"v":2.5,"R":0.24,"B":0.5,"G":0.48,"K":0.38},{"p":11,"v":3,"R":0.18,"B":0.4,"G":0.35,"K":0.28},
{"p":11,"v":4,"R":0.14,"B":0.4,"G":0.24,"K":0.18},{"p":11,"v":5,"R":0.12,"B":0.2,"G":0.15,"K":0.14},{"p":11,"v":6,"R":0.1,"B":0.45,"G":0.2,"K":0.12},{"p":11,"v":7,"R":0.13,"B":0.25,"G":0.12,"K":0.11},{"p":11,"v":8,"R":0.1,"B":0.5,"G":0.17,"K":0.1},{"p":11,"v":9,"R":0.12,"B":0.18,"G":0.13,"K":0.1},{"p":11,"v":10,"R":0.09,"B":0.35,"G":0.18,"K":0.1},{"p":11,"v":11,"R":0.1,"B":0.22,"G":0.11,"K":0.09},{"p":11,"v":12,"R":0.08,"B":0.45,"G":0.16,"K":0.09},{"p":11,"v":13,"R":0.1,"B":0.15,"G":0.12,"K":0.09},{"p":11,"v":14,"R":0.08,"B":0.3,"G":0.15,"K":0.08},{"p":11,"v":15,"R":0.09,"B":0.25,"G":0.1,"K":0.08},
{"p":12,"v":-15,"R":0.1,"B":0.1,"G":0.08,"K":0.07},{"p":12,"v":-14,"R":0.12,"B":0.15,"G":0.1,"K":0.07},{"p":12,"v":-13,"R":0.13,"B":0.08,"G":0.07,"K":0.08},{"p":12,"v":-12,"R":0.15,"B":0.12,"G":0.1,"K":0.07},{"p":12,"v":-11,"R":0.17,"B":0.18,"G":0.06,"K":0.08},{"p":12,"v":-10,"R":0.2,"B":0.1,"G":0.1,"K":0.08},{"p":12,"v":-9,"R":0.22,"B":0.14,"G":0.08,"K":0.08},{"p":12,"v":-8,"R":0.25,"B":0.08,"G":0.1,"K":0.09},{"p":12,"v":-7,"R":0.28,"B":0.15,"G":0.07,"K":0.09},{"p":12,"v":-6,"R":0.32,"B":0.1,"G":0.1,"K":0.1},{"p":12,"v":-5,"R":0.38,"B":0.14,"G":0.08,"K":0.1},{"p":12,"v":-4,"R":0.45,"B":0.18,"G":0.12,"K":0.11},{"p":12,"v":-3,"R":0.54,"B":0.22,"G":0.15,"K":0.12},
{"p":12,"v":-2.5,"R":0.6,"B":0.2,"G":0.16,"K":0.14},{"p":12,"v":-2,"R":0.68,"B":0.28,"G":0.22,"K":0.18},{"p":12,"v":-1.5,"R":0.76,"B":0.4,"G":0.36,"K":0.3},{"p":12,"v":-1,"R":0.85,"B":0.6,"G":0.58,"K":0.5},{"p":12,"v":-0.5,"R":0.93,"B":0.82,"G":0.84,"K":0.78},{"p":12,"v":0,"R":1.0,"B":0.98,"G":1.0,"K":0.95},{"p":12,"v":0.5,"R":0.9,"B":1.0,"G":1.03,"K":0.97},{"p":12,"v":1,"R":0.66,"B":0.9,"G":0.94,"K":0.88},{"p":12,"v":1.5,"R":0.45,"B":0.76,"G":0.8,"K":0.72},{"p":12,"v":2,"R":0.3,"B":0.6,"G":0.62,"K":0.52},{"p":12,"v":2.5,"R":0.2,"B":0.5,"G":0.48,"K":0.38},{"p":12,"v":3,"R":0.14,"B":0.4,"G":0.35,"K":0.28},
{"p":12,"v":4,"R":0.1,"B":0.3,"G":0.2,"K":0.18},{"p":12,"v":5,"R":0.08,"B":0.15,"G":0.12,"K":0.14},{"p":12,"v":6,"R":0.07,"B":0.22,"G":0.15,"K":0.12},{"p":12,"v":7,"R":0.06,"B":0.1,"G":0.08,"K":0.11},{"p":12,"v":8,"R":0.08,"B":0.25,"G":0.12,"K":0.1},{"p":12,"v":9,"R":0.05,"B":0.12,"G":0.07,"K":0.1},{"p":12,"v":10,"R":0.06,"B":0.2,"G":0.1,"K":0.1},{"p":12,"v":11,"R":0.07,"B":0.08,"G":0.06,"K":0.09},{"p":12,"v":12,"R":0.05,"B":0.18,"G":0.09,"K":0.09},{"p":12,"v":13,"R":0.06,"B":0.12,"G":0.07,"K":0.09},{"p":12,"v":14,"R":0.05,"B":0.2,"G":0.1,"K":0.08},{"p":12,"v":15,"R":0.06,"B":0.1,"G":0.06,"K":0.08},
{"p":13,"v":-15,"R":0.2,"B":0.1,"G":0.06,"K":0.07},{"p":13,"v":-14,"R":0.35,"B":0.08,"G":0.08,"K":0.07},{"p":13,"v":-13,"R":0.25,"B":0.15,"G":0.06,"K":0.08},{"p":13,"v":-12,"R":0.45,"B":0.1,"G":0.1,"K":0.07},{"p":13,"v":-11,"R":0.3,"B":0.12,"G":0.07,"K":0.08},{"p":13,"v":-10,"R":0.55,"B":0.15,"G":0.1,"K":0.08},{"p":13,"v":-9,"R":0.4,"B":0.1,"G":0.06,"K":0.08},{"p":13,"v":-8,"R":0.7,"B":0.18,"G":0.1,"K":0.09},{"p":13,"v":-7,"R":0.5,"B":0.12,"G":0.08,"K":0.09},{"p":13,"v":-6,"R":0.85,"B":0.15,"G":0.1,"K":0.1},{"p":13,"v":-5,"R":0.6,"B":0.1,"G":0.08,"K":0.1},{"p":13,"v":-4,"R":0.9,"B":0.16,"G":0.12,"K":0.11},{"p":13,"v":-3,"R":0.75,"B":0.2,"G":0.15,"K":0.12},
{"p":13,"v":-2.5,"R":0.85,"B":0.2,"G":0.16,"K":0.14},{"p":13,"v":-2,"R":0.8,"B":0.28,"G":0.22,"K":0.18},{"p":13,"v":-1.5,"R":0.9,"B":0.4,"G":0.36,"K":0.3},{"p":13,"v":-1,"R":0.95,"B":0.6,"G":0.58,"K":0.5},{"p":13,"v":-0.5,"R":0.98,"B":0.82,"G":0.84,"K":0.78},{"p":13,"v":0,"R":1.0,"B":0.98,"G":1.0,"K":0.95},{"p":13,"v":0.5,"R":0.88,"B":1.0,"G":1.03,"K":0.97},{"p":13,"v":1,"R":0.66,"B":0.9,"G":0.94,"K":0.88},{"p":13,"v":1.5,"R":0.46,"B":0.76,"G":0.8,"K":0.72},{"p":13,"v":2,"R":0.32,"B":0.6,"G":0.62,"K":0.52},{"p":13,"v":2.5,"R":0.25,"B":0.5,"G":0.48,"K":0.38},{"p":13,"v":3,"R":0.2,"B":0.4,"G":0.35,"K":0.28},
{"p":13,"v":4,"R":0.16,"B":0.3,"G":0.2,"K":0.18},{"p":13,"v":5,"R":0.13,"B":0.15,"G":0.1,"K":0.14},{"p":13,"v":6,"R":0.18,"B":0.45,"G":0.14,"K":0.12},{"p":13,"v":7,"R":0.12,"B":0.2,"G":0.07,"K":0.11},{"p":13,"v":8,"R":0.15,"B":0.35,"G":0.11,"K":0.1},{"p":13,"v":9,"R":0.12,"B":0.6,"G":0.06,"K":0.1},{"p":13,"v":10,"R":0.14,"B":0.15,"G":0.1,"K":0.1},{"p":13,"v":11,"R":0.11,"B":0.25,"G":0.07,"K":0.09},{"p":13,"v":12,"R":0.14,"B":0.4,"G":0.09,"K":0.09},{"p":13,"v":13,"R":0.1,"B":0.12,"G":0.06,"K":0.09},{"p":13,"v":14,"R":0.12,"B":0.3,"G":0.08,"K":0.08},{"p":13,"v":15,"R":0.11,"B":0.18,"G":0.06,"K":0.08},
{"p":14,"v":-15,"R":0.12,"B":0.1,"G":0.08,"K":0.07},{"p":14,"v":-14,"R":0.13,"B":0.12,"G":0.1,"K":0.07},{"p":14,"v":-13,"R":0.15,"B":0.08,"G":0.06,"K":0.08},{"p":14,"v":-12,"R":0.17,"B":0.15,"G":0.1,"K":0.07},{"p":14,"v":-11,"R":0.19,"B":0.1,"G":0.08,"K":0.08},{"p":14,"v":-10,"R":0.21,"B":0.12,"G":0.1,"K":0.08},{"p":14,"v":-9,"R":0.24,"B":0.08,"G":0.06,"K":0.08},{"p":14,"v":-8,"R":0.27,"B":0.15,"G":0.1,"K":0.09},{"p":14,"v":-7,"R":0.3,"B":0.1,"G":0.08,"K":0.09},{"p":14,"v":-6,"R":0.35,"B":0.12,"G":0.1,"K":0.1},{"p":14,"v":-5,"R":0.4,"B":0.1,"G":0.09,"K":0.1},{"p":14,"v":-4,"R":0.47,"B":0.15,"G":0.12,"K":0.11},{"p":14,"v":-3,"R":0.55,"B":0.2,"G":0.15,"K":0.12},
{"p":14,"v":-2.5,"R":0.62,"B":0.2,"G":0.16,"K":0.14},{"p":14,"v":-2,"R":0.7,"B":0.28,"G":0.22,"K":0.18},{"p":14,"v":-1.5,"R":0.78,"B":0.4,"G":0.36,"K":0.3},{"p":14,"v":-1,"R":0.86,"B":0.6,"G":0.58,"K":0.5},{"p":14,"v":-0.5,"R":0.94,"B":0.82,"G":0.84,"K":0.78},{"p":14,"v":0,"R":1.0,"B":0.98,"G":1.0,"K":0.95},{"p":14,"v":0.5,"R":0.95,"B":1.0,"G":1.03,"K":0.97},{"p":14,"v":1,"R":0.8,"B":0.9,"G":0.94,"K":0.88},{"p":14,"v":1.5,"R":0.6,"B":0.76,"G":0.8,"K":0.72},{"p":14,"v":2,"R":0.42,"B":0.6,"G":0.62,"K":0.52},{"p":14,"v":2.5,"R":0.3,"B":0.5,"G":0.48,"K":0.38},{"p":14,"v":3,"R":0.22,"B":0.4,"G":0.35,"K":0.28},
{"p":14,"v":4,"R":0.15,"B":0.25,"G":0.2,"K":0.18},{"p":14,"v":5,"R":0.13,"B":0.12,"G":0.12,"K":0.14},{"p":14,"v":6,"R":0.12,"B":0.2,"G":0.15,"K":0.12},{"p":14,"v":7,"R":0.11,"B":0.1,"G":0.08,"K":0.11},{"p":14,"v":8,"R":0.1,"B":0.15,"G":0.12,"K":0.1},{"p":14,"v":9,"R":0.12,"B":0.12,"G":0.07,"K":0.1},{"p":14,"v":10,"R":0.1,"B":0.2,"G":0.1,"K":0.1},{"p":14,"v":11,"R":0.09,"B":0.08,"G":0.07,"K":0.09},{"p":14,"v":12,"R":0.1,"B":0.22,"G":0.1,"K":0.09},{"p":14,"v":13,"R":0.08,"B":0.1,"G":0.06,"K":0.09},{"p":14,"v":14,"R":0.09,"B":0.15,"G":0.09,"K":0.08},{"p":14,"v":15,"R":0.1,"B":0.12,"G":0.07,"K":0.08},
{"p":15,"v":-15,"R":0.1,"B":0.15,"G":0.1,"K":0.07},{"p":15,"v":-14,"R":0.12,"B":0.1,"G":0.08,"K":0.07},{"p":15,"v":-13,"R":0.14,"B":0.2,"G":0.12,"K":0.08},{"p":15,"v":-12,"R":0.16,"B":0.12,"G":0.1,"K":0.07},{"p":15,"v":-11,"R":0.18,"B":0.25,"G":0.12,"K":0.08},{"p":15,"v":-10,"R":0.2,"B":0.1,"G":0.08,"K":0.08},{"p":15,"v":-9,"R":0.22,"B":0.18,"G":0.11,"K":0.08},{"p":15,"v":-8,"R":0.25,"B":0.12,"G":0.09,"K":0.09},{"p":15,"v":-7,"R":0.28,"B":0.22,"G":0.12,"K":0.09},{"p":15,"v":-6,"R":0.32,"B":0.1,"G":0.08,"K":0.1},{"p":15,"v":-5,"R":0.38,"B":0.18,"G":0.1,"K":0.1},{"p":15,"v":-4,"R":0.45,"B":0.15,"G":0.12,"K":0.11},{"p":15,"v":-3,"R":0.54,"B":0.2,"G":0.15,"K":0.12},
{"p":15,"v":-2.5,"R":0.6,"B":0.2,"G":0.16,"K":0.14},{"p":15,"v":-2,"R":0.68,"B":0.28,"G":0.22,"K":0.18},{"p":15,"v":-1.5,"R":0.76,"B":0.4,"G":0.36,"K":0.3},{"p":15,"v":-1,"R":0.85,"B":0.6,"G":0.58,"K":0.5},{"p":15,"v":-0.5,"R":0.93,"B":0.82,"G":0.84,"K":0.78},{"p":15,"v":0,"R":1.0,"B":0.98,"G":1.0,"K":0.95},{"p":15,"v":0.5,"R":0.9,"B":1.0,"G":1.03,"K":0.97},{"p":15,"v":1,"R":0.68,"B":0.9,"G":0.94,"K":0.88},{"p":15,"v":1.5,"R":0.48,"B":0.76,"G":0.8,"K":0.72},{"p":15,"v":2,"R":0.33,"B":0.6,"G":0.62,"K":0.52},{"p":15,"v":2.5,"R":0.25,"B":0.5,"G":0.48,"K":0.38},{"p":15,"v":3,"R":0.2,"B":0.4,"G":0.35,"K":0.28},
{"p":15,"v":4,"R":0.16,"B":0.3,"G":0.2,"K":0.18},{"p":15,"v":5,"R":0.14,"B":0.15,"G":0.12,"K":0.14},{"p":15,"v":6,"R":0.16,"B":0.25,"G":0.15,"K":0.12},{"p":15,"v":7,"R":0.13,"B":0.12,"G":0.1,"K":0.11},{"p":15,"v":8,"R":0.15,"B":0.2,"G":0.13,"K":0.1},{"p":15,"v":9,"R":0.12,"B":0.1,"G":0.08,"K":0.1},{"p":15,"v":10,"R":0.14,"B":0.3,"G":0.12,"K":0.1},{"p":15,"v":11,"R":0.13,"B":0.12,"G":0.08,"K":0.09},{"p":15,"v":12,"R":0.15,"B":0.18,"G":0.11,"K":0.09},{"p":15,"v":13,"R":0.12,"B":0.1,"G":0.08,"K":0.09},{"p":15,"v":14,"R":0.14,"B":0.2,"G":0.1,"K":0.08},{"p":15,"v":15,"R":0.13,"B":0.12,"G":0.08,"K":0.08},
{"p":16,"v":-15,"R":0.1,"B":0.1,"G":0.08,"K":0.07},{"p":16,"v":-14,"R":0.11,"B":0.12,"G":0.1,"K":0.07},{"p":16,"v":-13,"R":0.12,"B":0.2,"G":0.07,"K":0.08},{"p":16,"v":-12,"R":0.14,"B":0.1,"G":0.1,"K":0.07},{"p":16,"v":-11,"R":0.16,"B":0.15,"G":0.08,"K":0.08},{"p":16,"v":-10,"R":0.18,"B":0.08,"G":0.1,"K":0.08},{"p":16,"v":-9,"R":0.2,"B":0.18,"G":0.06,"K":0.08},{"p":16,"v":-8,"R":0.23,"B":0.12,"G":0.1,"K":0.09},{"p":16,"v":-7,"R":0.26,"B":0.15,"G":0.08,"K":0.09},{"p":16,"v":-6,"R":0.3,"B":0.1,"G":0.1,"K":0.1},{"p":16,"v":-5,"R":0.36,"B":0.12,"G":0.08,"K":0.1},{"p":16,"v":-4,"R":0.43,"B":0.15,"G":0.12,"K":0.11},{"p":16,"v":-3,"R":0.52,"B":0.2,"G":0.15,"K":0.12},
{"p":16,"v":-2.5,"R":0.58,"B":0.2,"G":0.16,"K":0.14},{"p":16,"v":-2,"R":0.66,"B":0.28,"G":0.22,"K":0.18},{"p":16,"v":-1.5,"R":0.75,"B":0.4,"G":0.36,"K":0.3},{"p":16,"v":-1,"R":0.84,"B":0.6,"G":0.58,"K":0.5},{"p":16,"v":-0.5,"R":0.93,"B":0.82,"G":0.84,"K":0.78},{"p":16,"v":0,"R":1.0,"B":0.98,"G":1.0,"K":0.95},{"p":16,"v":0.5,"R":0.9,"B":1.0,"G":1.03,"K":0.97},{"p":16,"v":1,"R":0.66,"B":0.9,"G":0.94,"K":0.88},{"p":16,"v":1.5,"R":0.46,"B":0.76,"G":0.8,"K":0.72},{"p":16,"v":2,"R":0.32,"B":0.6,"G":0.62,"K":0.52},{"p":16,"v":2.5,"R":0.22,"B":0.5,"G":0.48,"K":0.38},{"p":16,"v":3,"R":0.16,"B":0.4,"G":0.35,"K":0.28},
{"p":16,"v":4,"R":0.12,"B":0.3,"G":0.22,"K":0.18},{"p":16,"v":5,"R":0.1,"B":0.15,"G":0.12,"K":0.14},{"p":16,"v":6,"R":0.09,"B":0.35,"G":0.16,"K":0.12},{"p":16,"v":7,"R":0.1,"B":0.12,"G":0.09,"K":0.11},{"p":16,"v":8,"R":0.08,"B":0.25,"G":0.13,"K":0.1},{"p":16,"v":9,"R":0.1,"B":0.4,"G":0.07,"K":0.1},{"p":16,"v":10,"R":0.08,"B":0.12,"G":0.11,"K":0.1},{"p":16,"v":11,"R":0.09,"B":0.2,"G":0.06,"K":0.09},{"p":16,"v":12,"R":0.08,"B":0.3,"G":0.1,"K":0.09},{"p":16,"v":13,"R":0.09,"B":0.1,"G":0.07,"K":0.09},{"p":16,"v":14,"R":0.07,"B":0.25,"G":0.1,"K":0.08},{"p":16,"v":15,"R":0.08,"B":0.15,"G":0.06,"K":0.08},
{"p":17,"v":-15,"R":0.15,"B":0.12,"G":0.05,"K":0.07},{"p":17,"v":-14,"R":0.28,"B":0.25,"G":0.1,"K":0.07},{"p":17,"v":-13,"R":0.18,"B":0.15,"G":0.06,"K":0.08},{"p":17,"v":-12,"R":0.3,"B":0.3,"G":0.12,"K":0.07},{"p":17,"v":-11,"R":0.22,"B":0.18,"G":0.08,"K":0.08},{"p":17,"v":-10,"R":0.4,"B":0.28,"G":0.1,"K":0.08},{"p":17,"v":-9,"R":0.3,"B":0.2,"G":0.07,"K":0.08},{"p":17,"v":-8,"R":0.5,"B":0.3,"G":0.12,"K":0.09},{"p":17,"v":-7,"R":0.45,"B":0.22,"G":0.09,"K":0.09},{"p":17,"v":-6,"R":0.65,"B":0.35,"G":0.12,"K":0.1},{"p":17,"v":-5,"R":0.7,"B":0.25,"G":0.1,"K":0.1},{"p":17,"v":-4,"R":0.85,"B":0.4,"G":0.14,"K":0.11},{"p":17,"v":-3,"R":0.9,"B":0.45,"G":0.18,"K":0.12},
{"p":17,"v":-2.5,"R":0.92,"B":0.2,"G":0.16,"K":0.14},{"p":17,"v":-2,"R":0.88,"B":0.28,"G":0.22,"K":0.18},{"p":17,"v":-1.5,"R":0.93,"B":0.4,"G":0.36,"K":0.3},{"p":17,"v":-1,"R":0.95,"B":0.6,"G":0.58,"K":0.5},{"p":17,"v":-0.5,"R":0.97,"B":0.82,"G":0.84,"K":0.78},{"p":17,"v":0,"R":1.0,"B":0.98,"G":1.0,"K":0.95},{"p":17,"v":0.5,"R":0.85,"B":1.0,"G":1.03,"K":0.97},{"p":17,"v":1,"R":0.65,"B":0.9,"G":0.94,"K":0.88},{"p":17,"v":1.5,"R":0.5,"B":0.76,"G":0.8,"K":0.72},{"p":17,"v":2,"R":0.4,"B":0.6,"G":0.62,"K":0.52},{"p":17,"v":2.5,"R":0.35,"B":0.5,"G":0.48,"K":0.38},{"p":17,"v":3,"R":0.32,"B":0.4,"G":0.35,"K":0.28},
{"p":17,"v":4,"R":0.3,"B":0.4,"G":0.22,"K":0.18},{"p":17,"v":5,"R":0.22,"B":0.25,"G":0.12,"K":0.14},{"p":17,"v":6,"R":0.28,"B":0.35,"G":0.16,"K":0.12},{"p":17,"v":7,"R":0.2,"B":0.2,"G":0.08,"K":0.11},{"p":17,"v":8,"R":0.25,"B":0.45,"G":0.13,"K":0.1},{"p":17,"v":9,"R":0.18,"B":0.15,"G":0.07,"K":0.1},{"p":17,"v":10,"R":0.24,"B":0.3,"G":0.11,"K":0.1},{"p":17,"v":11,"R":0.2,"B":0.5,"G":0.06,"K":0.09},{"p":17,"v":12,"R":0.22,"B":0.2,"G":0.1,"K":0.09},{"p":17,"v":13,"R":0.18,"B":0.35,"G":0.07,"K":0.09},{"p":17,"v":14,"R":0.2,"B":0.18,"G":0.1,"K":0.08},{"p":17,"v":15,"R":0.17,"B":0.28,"G":0.06,"K":0.08},
{"p":18,"v":-15,"R":0.12,"B":0.08,"G":0.06,"K":0.07},{"p":18,"v":-14,"R":0.14,"B":0.12,"G":0.08,"K":0.07},{"p":18,"v":-13,"R":0.16,"B":0.1,"G":0.05,"K":0.08},{"p":18,"v":-12,"R":0.18,"B":0.2,"G":0.1,"K":0.07},{"p":18,"v":-11,"R":0.2,"B":0.08,"G":0.07,"K":0.08},{"p":18,"v":-10,"R":0.23,"B":0.12,"G":0.1,"K":0.08},{"p":18,"v":-9,"R":0.26,"B":0.1,"G":0.06,"K":0.08},{"p":18,"v":-8,"R":0.3,"B":0.15,"G":0.1,"K":0.09},{"p":18,"v":-7,"R":0.34,"B":0.1,"G":0.08,"K":0.09},{"p":18,"v":-6,"R":0.38,"B":0.12,"G":0.1,"K":0.1},{"p":18,"v":-5,"R":0.44,"B":0.1,"G":0.08,"K":0.1},{"p":18,"v":-4,"R":0.5,"B":0.15,"G":0.12,"K":0.11},{"p":18,"v":-3,"R":0.58,"B":0.2,"G":0.15,"K":0.12},
{"p":18,"v":-2.5,"R":0.64,"B":0.2,"G":0.16,"K":0.14},{"p":18,"v":-2,"R":0.7,"B":0.28,"G":0.22,"K":0.18},{"p":18,"v":-1.5,"R":0.78,"B":0.4,"G":0.36,"K":0.3},{"p":18,"v":-1,"R":0.86,"B":0.6,"G":0.58,"K":0.5},{"p":18,"v":-0.5,"R":0.94,"B":0.82,"G":0.84,"K":0.78},{"p":18,"v":0,"R":1.0,"B":0.98,"G":1.0,"K":0.95},{"p":18,"v":0.5,"R":0.9,"B":1.0,"G":1.03,"K":0.97},{"p":18,"v":1,"R":0.68,"B":0.9,"G":0.94,"K":0.88},{"p":18,"v":1.5,"R":0.48,"B":0.76,"G":0.8,"K":0.72},{"p":18,"v":2,"R":0.35,"B":0.6,"G":0.62,"K":0.52},{"p":18,"v":2.5,"R":0.28,"B":0.5,"G":0.48,"K":0.38},{"p":18,"v":3,"R":0.24,"B":0.4,"G":0.35,"K":0.28},
{"p":18,"v":4,"R":0.22,"B":0.25,"G":0.2,"K":0.18},{"p":18,"v":5,"R":0.2,"B":0.12,"G":0.1,"K":0.14},{"p":18,"v":6,"R":0.24,"B":0.18,"G":0.14,"K":0.12},{"p":18,"v":7,"R":0.2,"B":0.1,"G":0.07,"K":0.11},{"p":18,"v":8,"R":0.25,"B":0.15,"G":0.11,"K":0.1},{"p":18,"v":9,"R":0.2,"B":0.1,"G":0.06,"K":0.1},{"p":18,"v":10,"R":0.22,"B":0.14,"G":0.1,"K":0.1},{"p":18,"v":11,"R":0.18,"B":0.08,"G":0.06,"K":0.09},{"p":18,"v":12,"R":0.22,"B":0.12,"G":0.09,"K":0.09},{"p":18,"v":13,"R":0.19,"B":0.1,"G":0.06,"K":0.09},{"p":18,"v":14,"R":0.2,"B":0.14,"G":0.08,"K":0.08},{"p":18,"v":15,"R":0.18,"B":0.08,"G":0.06,"K":0.08},
{"p":19,"v":-15,"R":0.15,"B":0.12,"G":0.08,"K":0.07},{"p":19,"v":-14,"R":0.2,"B":0.2,"G":0.1,"K":0.07},{"p":19,"v":-13,"R":0.25,"B":0.42,"G":0.08,"K":0.08},{"p":19,"v":-12,"R":0.2,"B":0.15,"G":0.12,"K":0.07},{"p":19,"v":-11,"R":0.22,"B":0.2,"G":0.1,"K":0.08},{"p":19,"v":-10,"R":0.24,"B":0.12,"G":0.1,"K":0.08},{"p":19,"v":-9,"R":0.26,"B":0.18,"G":0.08,"K":0.08},{"p":19,"v":-8,"R":0.28,"B":0.1,"G":0.1,"K":0.09},{"p":19,"v":-7,"R":0.3,"B":0.15,"G":0.08,"K":0.09},{"p":19,"v":-6,"R":0.34,"B":0.12,"G":0.1,"K":0.1},{"p":19,"v":-5,"R":0.4,"B":0.14,"G":0.09,"K":0.1},{"p":19,"v":-4,"R":0.46,"B":0.16,"G":0.12,"K":0.11},{"p":19,"v":-3,"R":0.55,"B":0.2,"G":0.15,"K":0.12},
{"p":19,"v":-2.5,"R":0.62,"B":0.2,"G":0.16,"K":0.14},{"p":19,"v":-2,"R":0.7,"B":0.28,"G":0.22,"K":0.18},{"p":19,"v":-1.5,"R":0.78,"B":0.4,"G":0.36,"K":0.3},{"p":19,"v":-1,"R":0.86,"B":0.6,"G":0.58,"K":0.5},{"p":19,"v":-0.5,"R":0.94,"B":0.82,"G":0.84,"K":0.78},{"p":19,"v":0,"R":1.0,"B":0.98,"G":1.0,"K":0.95},{"p":19,"v":0.5,"R":0.9,"B":1.0,"G":1.03,"K":0.97},{"p":19,"v":1,"R":0.68,"B":0.9,"G":0.94,"K":0.88},{"p":19,"v":1.5,"R":0.48,"B":0.76,"G":0.8,"K":0.72},{"p":19,"v":2,"R":0.36,"B":0.6,"G":0.62,"K":0.52},{"p":19,"v":2.5,"R":0.3,"B":0.5,"G":0.48,"K":0.38},{"p":19,"v":3,"R":0.28,"B":0.4,"G":0.35,"K":0.28},
{"p":19,"v":4,"R":0.3,"B":0.28,"G":0.2,"K":0.18},{"p":19,"v":5,"R":0.26,"B":0.14,"G":0.1,"K":0.14},{"p":19,"v":6,"R":0.32,"B":0.2,"G":0.14,"K":0.12},{"p":19,"v":7,"R":0.25,"B":0.12,"G":0.08,"K":0.11},{"p":19,"v":8,"R":0.28,"B":0.18,"G":0.11,"K":0.1},{"p":19,"v":9,"R":0.22,"B":0.1,"G":0.06,"K":0.1},{"p":19,"v":10,"R":0.2,"B":0.15,"G":0.1,"K":0.1},{"p":19,"v":11,"R":0.18,"B":0.1,"G":0.06,"K":0.09},{"p":19,"v":12,"R":0.17,"B":0.13,"G":0.09,"K":0.09},{"p":19,"v":13,"R":0.15,"B":0.15,"G":0.07,"K":0.09},{"p":19,"v":14,"R":0.14,"B":0.1,"G":0.08,"K":0.08},{"p":19,"v":15,"R":0.12,"B":0.12,"G":0.06,"K":0.08},
{"p":20,"v":-15,"R":0.1,"B":0.25,"G":0.08,"K":0.07},{"p":20,"v":-14,"R":0.12,"B":0.45,"G":0.12,"K":0.07},{"p":20,"v":-13,"R":0.13,"B":0.2,"G":0.07,"K":0.08},{"p":20,"v":-12,"R":0.15,"B":0.35,"G":0.12,"K":0.07},{"p":20,"v":-11,"R":0.17,"B":0.15,"G":0.08,"K":0.08},{"p":20,"v":-10,"R":0.2,"B":0.3,"G":0.1,"K":0.08},{"p":20,"v":-9,"R":0.22,"B":0.12,"G":0.07,"K":0.08},{"p":20,"v":-8,"R":0.25,"B":0.25,"G":0.1,"K":0.09},{"p":20,"v":-7,"R":0.28,"B":0.15,"G":0.08,"K":0.09},{"p":20,"v":-6,"R":0.32,"B":0.2,"G":0.1,"K":0.1},{"p":20,"v":-5,"R":0.38,"B":0.12,"G":0.08,"K":0.1},{"p":20,"v":-4,"R":0.45,"B":0.18,"G":0.12,"K":0.11},{"p":20,"v":-3,"R":0.54,"B":0.22,"G":0.15,"K":0.12},
{"p":20,"v":-2.5,"R":0.6,"B":0.2,"G":0.16,"K":0.14},{"p":20,"v":-2,"R":0.68,"B":0.28,"G":0.22,"K":0.18},{"p":20,"v":-1.5,"R":0.76,"B":0.4,"G":0.36,"K":0.3},{"p":20,"v":-1,"R":0.85,"B":0.6,"G":0.58,"K":0.5},{"p":20,"v":-0.5,"R":0.93,"B":0.82,"G":0.84,"K":0.78},{"p":20,"v":0,"R":1.0,"B":0.98,"G":1.0,"K":0.95},{"p":20,"v":0.5,"R":0.9,"B":1.0,"G":1.03,"K":0.97},{"p":20,"v":1,"R":0.66,"B":0.9,"G":0.94,"K":0.88},{"p":20,"v":1.5,"R":0.46,"B":0.76,"G":0.8,"K":0.72},{"p":20,"v":2,"R":0.32,"B":0.6,"G":0.62,"K":0.52},{"p":20,"v":2.5,"R":0.22,"B":0.5,"G":0.48,"K":0.38},{"p":20,"v":3,"R":0.16,"B":0.4,"G":0.35,"K":0.28},
{"p":20,"v":4,"R":0.12,"B":0.3,"G":0.2,"K":0.18},{"p":20,"v":5,"R":0.1,"B":0.15,"G":0.12,"K":0.14},{"p":20,"v":6,"R":0.09,"B":0.22,"G":0.15,"K":0.12},{"p":20,"v":7,"R":0.08,"B":0.12,"G":0.08,"K":0.11},{"p":20,"v":8,"R":0.1,"B":0.4,"G":0.12,"K":0.1},{"p":20,"v":9,"R":0.08,"B":0.15,"G":0.07,"K":0.1},{"p":20,"v":10,"R":0.09,"B":0.45,"G":0.1,"K":0.1},{"p":20,"v":11,"R":0.07,"B":0.12,"G":0.06,"K":0.09},{"p":20,"v":12,"R":0.08,"B":0.2,"G":0.1,"K":0.09},{"p":20,"v":13,"R":0.06,"B":0.1,"G":0.07,"K":0.09},{"p":20,"v":14,"R":0.08,"B":0.15,"G":0.09,"K":0.08},{"p":20,"v":15,"R":0.07,"B":0.12,"G":0.06,"K":0.08},
{"p":1,"v":-14.5,"B":0.24,"G":0.04},{"p":1,"v":-13.5,"B":0.08,"G":0.14},{"p":1,"v":-12.5,"B":0.2,"G":0.05},{"p":1,"v":-11.5,"B":0.06,"G":0.13},{"p":1,"v":-10.5,"B":0.27,"G":0.05},{"p":1,"v":-9.5,"B":0.09,"G":0.14},{"p":1,"v":-8.5,"B":0.18,"G":0.06},{"p":1,"v":-7.5,"B":0.05,"G":0.12},{"p":1,"v":-6.5,"B":0.23,"G":0.04},{"p":1,"v":-5.5,"B":0.11,"G":0.14},{"p":1,"v":-4.5,"B":0.21,"G":0.07},{"p":1,"v":-3.5,"B":0.12,"G":0.11},{"p":1,"v":3.5,"B":0.35,"G":0.28},{"p":1,"v":4.5,"B":0.6,"G":0.06},{"p":1,"v":5.5,"B":0.16,"G":0.18},{"p":1,"v":6.5,"B":0.68,"G":0.07},{"p":1,"v":7.5,"B":0.28,"G":0.14},{"p":1,"v":8.5,"B":0.52,"G":0.04},{"p":1,"v":9.5,"B":0.2,"G":0.17},{"p":1,"v":10.5,"B":0.64,"G":0.08},{"p":1,"v":11.5,"B":0.32,"G":0.13},{"p":1,"v":12.5,"B":0.48,"G":0.06},{"p":1,"v":13.5,"B":0.16,"G":0.18},{"p":1,"v":14.5,"B":0.6,"G":0.09},
{"p":2,"v":-14.5,"B":0.19,"G":0.03},{"p":2,"v":-13.5,"B":0.06,"G":0.12},{"p":2,"v":-12.5,"B":0.16,"G":0.05},{"p":2,"v":-11.5,"B":0.05,"G":0.11},{"p":2,"v":-10.5,"B":0.22,"G":0.04},{"p":2,"v":-9.5,"B":0.07,"G":0.13},{"p":2,"v":-8.5,"B":0.14,"G":0.06},{"p":2,"v":-7.5,"B":0.04,"G":0.1},{"p":2,"v":-6.5,"B":0.18,"G":0.03},{"p":2,"v":-5.5,"B":0.08,"G":0.12},{"p":2,"v":-4.5,"B":0.17,"G":0.06},{"p":2,"v":-3.5,"B":0.1,"G":0.1},{"p":2,"v":3.5,"B":0.35,"G":0.28},{"p":2,"v":4.5,"B":0.23,"G":0.04},{"p":2,"v":5.5,"B":0.06,"G":0.13},{"p":2,"v":6.5,"B":0.26,"G":0.05},{"p":2,"v":7.5,"B":0.11,"G":0.1},{"p":2,"v":8.5,"B":0.2,"G":0.03},{"p":2,"v":9.5,"B":0.08,"G":0.12},{"p":2,"v":10.5,"B":0.24,"G":0.06},{"p":2,"v":11.5,"B":0.12,"G":0.1},{"p":2,"v":12.5,"B":0.18,"G":0.04},{"p":2,"v":13.5,"B":0.06,"G":0.13},{"p":2,"v":14.5,"B":0.23,"G":0.06},
{"p":3,"v":-14.5,"B":0.19,"G":0.04},{"p":3,"v":-13.5,"B":0.06,"G":0.14},{"p":3,"v":-12.5,"B":0.16,"G":0.05},{"p":3,"v":-11.5,"B":0.05,"G":0.13},{"p":3,"v":-10.5,"B":0.22,"G":0.05},{"p":3,"v":-9.5,"B":0.07,"G":0.14},{"p":3,"v":-8.5,"B":0.14,"G":0.06},{"p":3,"v":-7.5,"B":0.04,"G":0.12},{"p":3,"v":-6.5,"B":0.18,"G":0.04},{"p":3,"v":-5.5,"B":0.08,"G":0.14},{"p":3,"v":-4.5,"B":0.17,"G":0.07},{"p":3,"v":-3.5,"B":0.1,"G":0.11},{"p":3,"v":3.5,"B":0.35,"G":0.28},{"p":3,"v":4.5,"B":0.23,"G":0.06},{"p":3,"v":5.5,"B":0.06,"G":0.18},{"p":3,"v":6.5,"B":0.26,"G":0.07},{"p":3,"v":7.5,"B":0.11,"G":0.14},{"p":3,"v":8.5,"B":0.2,"G":0.04},{"p":3,"v":9.5,"B":0.08,"G":0.17},{"p":3,"v":10.5,"B":0.24,"G":0.08},{"p":3,"v":11.5,"B":0.12,"G":0.13},{"p":3,"v":12.5,"B":0.18,"G":0.06},{"p":3,"v":13.5,"B":0.06,"G":0.18},{"p":3,"v":14.5,"B":0.23,"G":0.09},
{"p":4,"v":-14.5,"B":0.24,"G":0.04},{"p":4,"v":-13.5,"B":0.08,"G":0.14},{"p":4,"v":-12.5,"B":0.2,"G":0.05},{"p":4,"v":-11.5,"B":0.06,"G":0.13},{"p":4,"v":-10.5,"B":0.27,"G":0.05},{"p":4,"v":-9.5,"B":0.09,"G":0.14},{"p":4,"v":-8.5,"B":0.18,"G":0.06},{"p":4,"v":-7.5,"B":0.05,"G":0.12},{"p":4,"v":-6.5,"B":0.23,"G":0.04},{"p":4,"v":-5.5,"B":0.11,"G":0.14},{"p":4,"v":-4.5,"B":0.21,"G":0.07},{"p":4,"v":-3.5,"B":0.12,"G":0.11},{"p":4,"v":3.5,"B":0.35,"G":0.28},{"p":4,"v":4.5,"B":0.6,"G":0.05},{"p":4,"v":5.5,"B":0.16,"G":0.16},{"p":4,"v":6.5,"B":0.68,"G":0.06},{"p":4,"v":7.5,"B":0.28,"G":0.13},{"p":4,"v":8.5,"B":0.52,"G":0.04},{"p":4,"v":9.5,"B":0.2,"G":0.15},{"p":4,"v":10.5,"B":0.64,"G":0.07},{"p":4,"v":11.5,"B":0.32,"G":0.12},{"p":4,"v":12.5,"B":0.48,"G":0.05},{"p":4,"v":13.5,"B":0.16,"G":0.16},{"p":4,"v":14.5,"B":0.6,"G":0.08},
{"p":5,"v":-14.5,"B":0.16,"G":0.03},{"p":5,"v":-13.5,"B":0.05,"G":0.11},{"p":5,"v":-12.5,"B":0.13,"G":0.04},{"p":5,"v":-11.5,"B":0.04,"G":0.1},{"p":5,"v":-10.5,"B":0.18,"G":0.04},{"p":5,"v":-9.5,"B":0.06,"G":0.11},{"p":5,"v":-8.5,"B":0.12,"G":0.05},{"p":5,"v":-7.5,"B":0.03,"G":0.09},{"p":5,"v":-6.5,"B":0.15,"G":0.03},{"p":5,"v":-5.5,"B":0.07,"G":0.11},{"p":5,"v":-4.5,"B":0.14,"G":0.06},{"p":5,"v":-3.5,"B":0.08,"G":0.08},{"p":5,"v":3.5,"B":0.35,"G":0.28},{"p":5,"v":4.5,"B":0.18,"G":0.04},{"p":5,"v":5.5,"B":0.05,"G":0.13},{"p":5,"v":6.5,"B":0.2,"G":0.05},{"p":5,"v":7.5,"B":0.08,"G":0.1},{"p":5,"v":8.5,"B":0.16,"G":0.03},{"p":5,"v":9.5,"B":0.06,"G":0.12},{"p":5,"v":10.5,"B":0.19,"G":0.06},{"p":5,"v":11.5,"B":0.1,"G":0.1},{"p":5,"v":12.5,"B":0.14,"G":0.04},{"p":5,"v":13.5,"B":0.05,"G":0.13},{"p":5,"v":14.5,"B":0.18,"G":0.06},
{"p":6,"v":-14.5,"B":0.19,"G":0.03},{"p":6,"v":-13.5,"B":0.06,"G":0.12},{"p":6,"v":-12.5,"B":0.16,"G":0.05},{"p":6,"v":-11.5,"B":0.05,"G":0.11},{"p":6,"v":-10.5,"B":0.22,"G":0.04},{"p":6,"v":-9.5,"B":0.07,"G":0.13},{"p":6,"v":-8.5,"B":0.14,"G":0.06},{"p":6,"v":-7.5,"B":0.04,"G":0.1},{"p":6,"v":-6.5,"B":0.18,"G":0.03},{"p":6,"v":-5.5,"B":0.08,"G":0.12},{"p":6,"v":-4.5,"B":0.17,"G":0.06},{"p":6,"v":-3.5,"B":0.1,"G":0.1},{"p":6,"v":3.5,"B":0.35,"G":0.28},{"p":6,"v":4.5,"B":0.3,"G":0.04},{"p":6,"v":5.5,"B":0.08,"G":0.13},{"p":6,"v":6.5,"B":0.34,"G":0.05},{"p":6,"v":7.5,"B":0.14,"G":0.1},{"p":6,"v":8.5,"B":0.26,"G":0.03},{"p":6,"v":9.5,"B":0.1,"G":0.12},{"p":6,"v":10.5,"B":0.32,"G":0.06},{"p":6,"v":11.5,"B":0.16,"G":0.1},{"p":6,"v":12.5,"B":0.24,"G":0.04},{"p":6,"v":13.5,"B":0.08,"G":0.13},{"p":6,"v":14.5,"B":0.3,"G":0.06},
{"p":7,"v":-14.5,"B":0.27,"G":0.04},{"p":7,"v":-13.5,"B":0.09,"G":0.17},{"p":7,"v":-12.5,"B":0.22,"G":0.07},{"p":7,"v":-11.5,"B":0.07,"G":0.15},{"p":7,"v":-10.5,"B":0.31,"G":0.06},{"p":7,"v":-9.5,"B":0.1,"G":0.18},{"p":7,"v":-8.5,"B":0.2,"G":0.08},{"p":7,"v":-7.5,"B":0.05,"G":0.14},{"p":7,"v":-6.5,"B":0.26,"G":0.04},{"p":7,"v":-5.5,"B":0.12,"G":0.17},{"p":7,"v":-4.5,"B":0.24,"G":0.09},{"p":7,"v":-3.5,"B":0.14,"G":0.13},{"p":7,"v":3.5,"B":0.35,"G":0.28},{"p":7,"v":4.5,"B":0.38,"G":0.07},{"p":7,"v":5.5,"B":0.1,"G":0.22},{"p":7,"v":6.5,"B":0.43,"G":0.08},{"p":7,"v":7.5,"B":0.18,"G":0.18},{"p":7,"v":8.5,"B":0.33,"G":0.06},{"p":7,"v":9.5,"B":0.13,"G":0.21},{"p":7,"v":10.5,"B":0.4,"G":0.1},{"p":7,"v":11.5,"B":0.2,"G":0.17},{"p":7,"v":12.5,"B":0.3,"G":0.07},{"p":7,"v":13.5,"B":0.1,"G":0.22},{"p":7,"v":14.5,"B":0.38,"G":0.11},
{"p":8,"v":-14.5,"B":0.22,"G":0.04},{"p":8,"v":-13.5,"B":0.07,"G":0.14},{"p":8,"v":-12.5,"B":0.18,"G":0.05},{"p":8,"v":-11.5,"B":0.06,"G":0.13},{"p":8,"v":-10.5,"B":0.25,"G":0.05},{"p":8,"v":-9.5,"B":0.08,"G":0.14},{"p":8,"v":-8.5,"B":0.17,"G":0.06},{"p":8,"v":-7.5,"B":0.04,"G":0.12},{"p":8,"v":-6.5,"B":0.21,"G":0.04},{"p":8,"v":-5.5,"B":0.1,"G":0.14},{"p":8,"v":-4.5,"B":0.2,"G":0.07},{"p":8,"v":-3.5,"B":0.11,"G":0.11},{"p":8,"v":3.5,"B":0.35,"G":0.28},{"p":8,"v":4.5,"B":0.45,"G":0.06},{"p":8,"v":5.5,"B":0.12,"G":0.19},{"p":8,"v":6.5,"B":0.51,"G":0.07},{"p":8,"v":7.5,"B":0.21,"G":0.16},{"p":8,"v":8.5,"B":0.39,"G":0.05},{"p":8,"v":9.5,"B":0.15,"G":0.18},{"p":8,"v":10.5,"B":0.48,"G":0.08},{"p":8,"v":11.5,"B":0.24,"G":0.14},{"p":8,"v":12.5,"B":0.36,"G":0.06},{"p":8,"v":13.5,"B":0.12,"G":0.19},{"p":8,"v":14.5,"B":0.45,"G":0.1},
{"p":9,"v":-14.5,"B":0.19,"G":0.04},{"p":9,"v":-13.5,"B":0.06,"G":0.14},{"p":9,"v":-12.5,"B":0.16,"G":0.05},{"p":9,"v":-11.5,"B":0.05,"G":0.13},{"p":9,"v":-10.5,"B":0.22,"G":0.05},{"p":9,"v":-9.5,"B":0.07,"G":0.14},{"p":9,"v":-8.5,"B":0.14,"G":0.06},{"p":9,"v":-7.5,"B":0.04,"G":0.12},{"p":9,"v":-6.5,"B":0.18,"G":0.04},{"p":9,"v":-5.5,"B":0.08,"G":0.14},{"p":9,"v":-4.5,"B":0.17,"G":0.07},{"p":9,"v":-3.5,"B":0.1,"G":0.11},{"p":9,"v":3.5,"B":0.35,"G":0.28},{"p":9,"v":4.5,"B":0.23,"G":0.05},{"p":9,"v":5.5,"B":0.06,"G":0.14},{"p":9,"v":6.5,"B":0.26,"G":0.05},{"p":9,"v":7.5,"B":0.11,"G":0.12},{"p":9,"v":8.5,"B":0.2,"G":0.04},{"p":9,"v":9.5,"B":0.08,"G":0.14},{"p":9,"v":10.5,"B":0.24,"G":0.06},{"p":9,"v":11.5,"B":0.12,"G":0.11},{"p":9,"v":12.5,"B":0.18,"G":0.05},{"p":9,"v":13.5,"B":0.06,"G":0.14},{"p":9,"v":14.5,"B":0.23,"G":0.07},
{"p":10,"v":-14.5,"B":0.32,"G":0.04},{"p":10,"v":-13.5,"B":0.1,"G":0.17},{"p":10,"v":-12.5,"B":0.26,"G":0.07},{"p":10,"v":-11.5,"B":0.08,"G":0.15},{"p":10,"v":-10.5,"B":0.36,"G":0.06},{"p":10,"v":-9.5,"B":0.12,"G":0.18},{"p":10,"v":-8.5,"B":0.24,"G":0.08},{"p":10,"v":-7.5,"B":0.06,"G":0.14},{"p":10,"v":-6.5,"B":0.3,"G":0.04},{"p":10,"v":-5.5,"B":0.14,"G":0.17},{"p":10,"v":-4.5,"B":0.28,"G":0.09},{"p":10,"v":-3.5,"B":0.16,"G":0.13},{"p":10,"v":3.5,"B":0.35,"G":0.28},{"p":10,"v":4.5,"B":0.45,"G":0.07},{"p":10,"v":5.5,"B":0.12,"G":0.21},{"p":10,"v":6.5,"B":0.51,"G":0.08},{"p":10,"v":7.5,"B":0.21,"G":0.17},{"p":10,"v":8.5,"B":0.39,"G":0.05},{"p":10,"v":9.5,"B":0.15,"G":0.2},{"p":10,"v":10.5,"B":0.48,"G":0.09},{"p":10,"v":11.5,"B":0.24,"G":0.16},{"p":10,"v":12.5,"B":0.36,"G":0.07},{"p":10,"v":13.5,"B":0.12,"G":0.21},{"p":10,"v":14.5,"B":0.45,"G":0.1},
{"p":11,"v":-14.5,"B":0.45,"G":0.05},{"p":11,"v":-13.5,"B":0.14,"G":0.2},{"p":11,"v":-12.5,"B":0.36,"G":0.08},{"p":11,"v":-11.5,"B":0.11,"G":0.18},{"p":11,"v":-10.5,"B":0.5,"G":0.07},{"p":11,"v":-9.5,"B":0.17,"G":0.21},{"p":11,"v":-8.5,"B":0.34,"G":0.09},{"p":11,"v":-7.5,"B":0.08,"G":0.17},{"p":11,"v":-6.5,"B":0.42,"G":0.05},{"p":11,"v":-5.5,"B":0.2,"G":0.2},{"p":11,"v":-4.5,"B":0.39,"G":0.1},{"p":11,"v":-3.5,"B":0.22,"G":0.16},{"p":11,"v":3.5,"B":0.35,"G":0.28},{"p":11,"v":4.5,"B":0.5,"G":0.08},{"p":11,"v":5.5,"B":0.13,"G":0.24},{"p":11,"v":6.5,"B":0.56,"G":0.09},{"p":11,"v":7.5,"B":0.23,"G":0.2},{"p":11,"v":8.5,"B":0.43,"G":0.06},{"p":11,"v":9.5,"B":0.17,"G":0.23},{"p":11,"v":10.5,"B":0.53,"G":0.11},{"p":11,"v":11.5,"B":0.26,"G":0.18},{"p":11,"v":12.5,"B":0.4,"G":0.08},{"p":11,"v":13.5,"B":0.13,"G":0.24},{"p":11,"v":14.5,"B":0.5,"G":0.12},
{"p":12,"v":-14.5,"B":0.21,"G":0.04},{"p":12,"v":-13.5,"B":0.07,"G":0.14},{"p":12,"v":-12.5,"B":0.17,"G":0.05},{"p":12,"v":-11.5,"B":0.05,"G":0.13},{"p":12,"v":-10.5,"B":0.23,"G":0.05},{"p":12,"v":-9.5,"B":0.08,"G":0.14},{"p":12,"v":-8.5,"B":0.16,"G":0.06},{"p":12,"v":-7.5,"B":0.04,"G":0.12},{"p":12,"v":-6.5,"B":0.2,"G":0.04},{"p":12,"v":-5.5,"B":0.09,"G":0.14},{"p":12,"v":-4.5,"B":0.18,"G":0.07},{"p":12,"v":-3.5,"B":0.1,"G":0.11},{"p":12,"v":3.5,"B":0.35,"G":0.28},{"p":12,"v":4.5,"B":0.26,"G":0.05},{"p":12,"v":5.5,"B":0.07,"G":0.16},{"p":12,"v":6.5,"B":0.29,"G":0.06},{"p":12,"v":7.5,"B":0.12,"G":0.13},{"p":12,"v":8.5,"B":0.22,"G":0.04},{"p":12,"v":9.5,"B":0.09,"G":0.15},{"p":12,"v":10.5,"B":0.27,"G":0.07},{"p":12,"v":11.5,"B":0.14,"G":0.12},{"p":12,"v":12.5,"B":0.2,"G":0.05},{"p":12,"v":13.5,"B":0.07,"G":0.16},{"p":12,"v":14.5,"B":0.26,"G":0.08},
{"p":13,"v":-14.5,"B":0.21,"G":0.03},{"p":13,"v":-13.5,"B":0.07,"G":0.12},{"p":13,"v":-12.5,"B":0.17,"G":0.05},{"p":13,"v":-11.5,"B":0.05,"G":0.11},{"p":13,"v":-10.5,"B":0.23,"G":0.04},{"p":13,"v":-9.5,"B":0.08,"G":0.13},{"p":13,"v":-8.5,"B":0.16,"G":0.06},{"p":13,"v":-7.5,"B":0.04,"G":0.1},{"p":13,"v":-6.5,"B":0.2,"G":0.03},{"p":13,"v":-5.5,"B":0.09,"G":0.12},{"p":13,"v":-4.5,"B":0.18,"G":0.06},{"p":13,"v":-3.5,"B":0.1,"G":0.1},{"p":13,"v":3.5,"B":0.35,"G":0.28},{"p":13,"v":4.5,"B":0.45,"G":0.05},{"p":13,"v":5.5,"B":0.12,"G":0.14},{"p":13,"v":6.5,"B":0.51,"G":0.05},{"p":13,"v":7.5,"B":0.21,"G":0.12},{"p":13,"v":8.5,"B":0.39,"G":0.04},{"p":13,"v":9.5,"B":0.15,"G":0.14},{"p":13,"v":10.5,"B":0.48,"G":0.06},{"p":13,"v":11.5,"B":0.24,"G":0.11},{"p":13,"v":12.5,"B":0.36,"G":0.05},{"p":13,"v":13.5,"B":0.12,"G":0.14},{"p":13,"v":14.5,"B":0.45,"G":0.07},
{"p":14,"v":-14.5,"B":0.19,"G":0.04},{"p":14,"v":-13.5,"B":0.06,"G":0.14},{"p":14,"v":-12.5,"B":0.16,"G":0.05},{"p":14,"v":-11.5,"B":0.05,"G":0.13},{"p":14,"v":-10.5,"B":0.22,"G":0.05},{"p":14,"v":-9.5,"B":0.07,"G":0.14},{"p":14,"v":-8.5,"B":0.14,"G":0.06},{"p":14,"v":-7.5,"B":0.04,"G":0.12},{"p":14,"v":-6.5,"B":0.18,"G":0.04},{"p":14,"v":-5.5,"B":0.08,"G":0.14},{"p":14,"v":-4.5,"B":0.17,"G":0.07},{"p":14,"v":-3.5,"B":0.1,"G":0.11},{"p":14,"v":3.5,"B":0.35,"G":0.28},{"p":14,"v":4.5,"B":0.23,"G":0.05},{"p":14,"v":5.5,"B":0.06,"G":0.16},{"p":14,"v":6.5,"B":0.26,"G":0.06},{"p":14,"v":7.5,"B":0.11,"G":0.13},{"p":14,"v":8.5,"B":0.2,"G":0.04},{"p":14,"v":9.5,"B":0.08,"G":0.15},{"p":14,"v":10.5,"B":0.24,"G":0.07},{"p":14,"v":11.5,"B":0.12,"G":0.12},{"p":14,"v":12.5,"B":0.18,"G":0.05},{"p":14,"v":13.5,"B":0.06,"G":0.16},{"p":14,"v":14.5,"B":0.23,"G":0.08},
{"p":15,"v":-14.5,"B":0.26,"G":0.04},{"p":15,"v":-13.5,"B":0.08,"G":0.15},{"p":15,"v":-12.5,"B":0.21,"G":0.06},{"p":15,"v":-11.5,"B":0.06,"G":0.14},{"p":15,"v":-10.5,"B":0.29,"G":0.05},{"p":15,"v":-9.5,"B":0.1,"G":0.16},{"p":15,"v":-8.5,"B":0.19,"G":0.07},{"p":15,"v":-7.5,"B":0.05,"G":0.13},{"p":15,"v":-6.5,"B":0.24,"G":0.04},{"p":15,"v":-5.5,"B":0.11,"G":0.15},{"p":15,"v":-4.5,"B":0.22,"G":0.08},{"p":15,"v":-3.5,"B":0.13,"G":0.12},{"p":15,"v":3.5,"B":0.35,"G":0.28},{"p":15,"v":4.5,"B":0.27,"G":0.06},{"p":15,"v":5.5,"B":0.07,"G":0.18},{"p":15,"v":6.5,"B":0.31,"G":0.07},{"p":15,"v":7.5,"B":0.13,"G":0.14},{"p":15,"v":8.5,"B":0.23,"G":0.04},{"p":15,"v":9.5,"B":0.09,"G":0.17},{"p":15,"v":10.5,"B":0.29,"G":0.08},{"p":15,"v":11.5,"B":0.14,"G":0.13},{"p":15,"v":12.5,"B":0.22,"G":0.06},{"p":15,"v":13.5,"B":0.07,"G":0.18},{"p":15,"v":14.5,"B":0.27,"G":0.09},
{"p":16,"v":-14.5,"B":0.21,"G":0.04},{"p":16,"v":-13.5,"B":0.07,"G":0.14},{"p":16,"v":-12.5,"B":0.17,"G":0.05},{"p":16,"v":-11.5,"B":0.05,"G":0.13},{"p":16,"v":-10.5,"B":0.23,"G":0.05},{"p":16,"v":-9.5,"B":0.08,"G":0.14},{"p":16,"v":-8.5,"B":0.16,"G":0.06},{"p":16,"v":-7.5,"B":0.04,"G":0.12},{"p":16,"v":-6.5,"B":0.2,"G":0.04},{"p":16,"v":-5.5,"B":0.09,"G":0.14},{"p":16,"v":-4.5,"B":0.18,"G":0.07},{"p":16,"v":-3.5,"B":0.1,"G":0.11},{"p":16,"v":3.5,"B":0.35,"G":0.28},{"p":16,"v":4.5,"B":0.33,"G":0.05},{"p":16,"v":5.5,"B":0.09,"G":0.16},{"p":16,"v":6.5,"B":0.37,"G":0.06},{"p":16,"v":7.5,"B":0.15,"G":0.13},{"p":16,"v":8.5,"B":0.29,"G":0.04},{"p":16,"v":9.5,"B":0.11,"G":0.15},{"p":16,"v":10.5,"B":0.35,"G":0.07},{"p":16,"v":11.5,"B":0.18,"G":0.12},{"p":16,"v":12.5,"B":0.26,"G":0.05},{"p":16,"v":13.5,"B":0.09,"G":0.16},{"p":16,"v":14.5,"B":0.33,"G":0.08},
{"p":17,"v":-14.5,"B":0.4,"G":0.04},{"p":17,"v":-13.5,"B":0.13,"G":0.14},{"p":17,"v":-12.5,"B":0.33,"G":0.05},{"p":17,"v":-11.5,"B":0.1,"G":0.13},{"p":17,"v":-10.5,"B":0.45,"G":0.05},{"p":17,"v":-9.5,"B":0.15,"G":0.14},{"p":17,"v":-8.5,"B":0.3,"G":0.06},{"p":17,"v":-7.5,"B":0.08,"G":0.12},{"p":17,"v":-6.5,"B":0.38,"G":0.04},{"p":17,"v":-5.5,"B":0.18,"G":0.14},{"p":17,"v":-4.5,"B":0.35,"G":0.07},{"p":17,"v":-3.5,"B":0.2,"G":0.11},{"p":17,"v":3.5,"B":0.35,"G":0.28},{"p":17,"v":4.5,"B":0.45,"G":0.05},{"p":17,"v":5.5,"B":0.12,"G":0.16},{"p":17,"v":6.5,"B":0.51,"G":0.06},{"p":17,"v":7.5,"B":0.21,"G":0.13},{"p":17,"v":8.5,"B":0.39,"G":0.04},{"p":17,"v":9.5,"B":0.15,"G":0.15},{"p":17,"v":10.5,"B":0.48,"G":0.07},{"p":17,"v":11.5,"B":0.24,"G":0.12},{"p":17,"v":12.5,"B":0.36,"G":0.05},{"p":17,"v":13.5,"B":0.12,"G":0.16},{"p":17,"v":14.5,"B":0.45,"G":0.08},
{"p":18,"v":-14.5,"B":0.19,"G":0.03},{"p":18,"v":-13.5,"B":0.06,"G":0.12},{"p":18,"v":-12.5,"B":0.16,"G":0.05},{"p":18,"v":-11.5,"B":0.05,"G":0.11},{"p":18,"v":-10.5,"B":0.22,"G":0.04},{"p":18,"v":-9.5,"B":0.07,"G":0.13},{"p":18,"v":-8.5,"B":0.14,"G":0.06},{"p":18,"v":-7.5,"B":0.04,"G":0.1},{"p":18,"v":-6.5,"B":0.18,"G":0.03},{"p":18,"v":-5.5,"B":0.08,"G":0.12},{"p":18,"v":-4.5,"B":0.17,"G":0.06},{"p":18,"v":-3.5,"B":0.1,"G":0.1},{"p":18,"v":3.5,"B":0.35,"G":0.28},{"p":18,"v":4.5,"B":0.18,"G":0.05},{"p":18,"v":5.5,"B":0.05,"G":0.14},{"p":18,"v":6.5,"B":0.2,"G":0.05},{"p":18,"v":7.5,"B":0.08,"G":0.12},{"p":18,"v":8.5,"B":0.16,"G":0.04},{"p":18,"v":9.5,"B":0.06,"G":0.14},{"p":18,"v":10.5,"B":0.19,"G":0.06},{"p":18,"v":11.5,"B":0.1,"G":0.11},{"p":18,"v":12.5,"B":0.14,"G":0.05},{"p":18,"v":13.5,"B":0.05,"G":0.14},{"p":18,"v":14.5,"B":0.18,"G":0.07},
{"p":19,"v":-14.5,"B":0.24,"G":0.04},{"p":19,"v":-13.5,"B":0.08,"G":0.15},{"p":19,"v":-12.5,"B":0.2,"G":0.06},{"p":19,"v":-11.5,"B":0.06,"G":0.14},{"p":19,"v":-10.5,"B":0.27,"G":0.05},{"p":19,"v":-9.5,"B":0.09,"G":0.16},{"p":19,"v":-8.5,"B":0.18,"G":0.07},{"p":19,"v":-7.5,"B":0.05,"G":0.13},{"p":19,"v":-6.5,"B":0.23,"G":0.04},{"p":19,"v":-5.5,"B":0.11,"G":0.15},{"p":19,"v":-4.5,"B":0.21,"G":0.08},{"p":19,"v":-3.5,"B":0.12,"G":0.12},{"p":19,"v":3.5,"B":0.35,"G":0.28},{"p":19,"v":4.5,"B":0.23,"G":0.05},{"p":19,"v":5.5,"B":0.06,"G":0.14},{"p":19,"v":6.5,"B":0.26,"G":0.05},{"p":19,"v":7.5,"B":0.11,"G":0.12},{"p":19,"v":8.5,"B":0.2,"G":0.04},{"p":19,"v":9.5,"B":0.08,"G":0.14},{"p":19,"v":10.5,"B":0.24,"G":0.06},{"p":19,"v":11.5,"B":0.12,"G":0.11},{"p":19,"v":12.5,"B":0.18,"G":0.05},{"p":19,"v":13.5,"B":0.06,"G":0.14},{"p":19,"v":14.5,"B":0.23,"G":0.07},
{"p":20,"v":-14.5,"B":0.35,"G":0.04},{"p":20,"v":-13.5,"B":0.11,"G":0.14},{"p":20,"v":-12.5,"B":0.29,"G":0.05},{"p":20,"v":-11.5,"B":0.09,"G":0.13},{"p":20,"v":-10.5,"B":0.4,"G":0.05},{"p":20,"v":-9.5,"B":0.13,"G":0.14},{"p":20,"v":-8.5,"B":0.26,"G":0.06},{"p":20,"v":-7.5,"B":0.07,"G":0.12},{"p":20,"v":-6.5,"B":0.33,"G":0.04},{"p":20,"v":-5.5,"B":0.15,"G":0.14},{"p":20,"v":-4.5,"B":0.31,"G":0.07},{"p":20,"v":-3.5,"B":0.18,"G":0.11},{"p":20,"v":3.5,"B":0.35,"G":0.28},{"p":20,"v":4.5,"B":0.3,"G":0.05},{"p":20,"v":5.5,"B":0.08,"G":0.16},{"p":20,"v":6.5,"B":0.34,"G":0.06},{"p":20,"v":7.5,"B":0.14,"G":0.13},{"p":20,"v":8.5,"B":0.26,"G":0.04},{"p":20,"v":9.5,"B":0.1,"G":0.15},{"p":20,"v":10.5,"B":0.32,"G":0.07},{"p":20,"v":11.5,"B":0.16,"G":0.12},{"p":20,"v":12.5,"B":0.24,"G":0.05},{"p":20,"v":13.5,"B":0.08,"G":0.16},{"p":20,"v":14.5,"B":0.3,"G":0.08}
]},
"data": {"name": "spectra"},
"transform": [
{"lookup": "p", "from": {"data": {"name": "names"}, "key": "p", "fields": ["n"]}},
{"calculate": "floor((datum.p - 1) / 4)", "as": "row"},
{"calculate": "(datum.p - 1) % 4", "as": "col"}
],
"facet": {
"row": {"field": "row", "type": "ordinal", "title": "Δv[10³kms⁻¹]", "header": {"labels": false, "titleOrient": "right", "titleAngle": 270, "titleAlign": "left", "titleFontSize": 24, "titleFont": "Liberation Serif", "titleFontWeight": "normal", "titleColor": "black", "titlePadding": 2}},
"column": {"field": "col", "type": "ordinal", "title": "Fλ", "header": {"labels": false, "titleOrient": "bottom", "titleAngle": 270, "titleBaseline": "top", "titleFontSize": 24, "titleFont": "Liberation Serif", "titleFontWeight": "normal", "titleColor": "black", "titlePadding": 22}}
},
"spacing": 0,
"bounds": "flush",
"spec": {
"width": 157, "height": 165,
"layer": [
{"transform": [{"fold": ["R", "B", "G", "K"], "as": ["s", "f"]}, {"filter": "isValid(datum.f)"}],
 "mark": {"type": "line", "clip": true, "strokeJoin": "miter"},
 "encoding": {
  "x": {"field": "f", "type": "quantitative", "scale": {"domain": [-0.1, 1.1], "reverse": true, "nice": false, "zero": false}, "axis": {"title": null, "values": [0, 0.2, 0.4, 0.6, 0.8, 1.0], "format": ".1f", "labelAngle": 270, "labelAlign": "right", "labelBaseline": "middle", "labelFontSize": 9.5, "tickSize": -4, "labelPadding": 6, "labelOverlap": false}},
  "y": {"field": "v", "type": "quantitative", "scale": {"domain": [-15.5, 15.5], "nice": false, "zero": false}, "axis": {"orient": "right", "title": null, "values": [-10, -5, 0, 5, 10, 15], "format": "d", "labelAngle": 270, "labelAlign": "center", "labelBaseline": "top", "labelFontSize": 9.5, "tickSize": -4, "labelPadding": 9, "labelOverlap": false}},
  "color": {"field": "s", "type": "nominal", "scale": {"domain": ["R", "B", "G", "K"], "range": ["#ff0000", "#0000ff", "#008000", "#000000"]}, "legend": null},
  "strokeWidth": {"field": "s", "type": "nominal", "scale": {"domain": ["R", "B", "G", "K"], "range": [0.9, 0.9, 0.9, 1.6]}, "legend": null},
  "order": {"field": "v", "type": "quantitative"}
 }},
{"transform": [{"filter": "datum.v == -10 || datum.v == -5 || datum.v == 0 || datum.v == 5 || datum.v == 10 || datum.v == 15"}], "mark": {"type": "rule", "color": "black", "strokeWidth": 0.8}, "encoding": {"x": {"datum": 1.1, "type": "quantitative"}, "x2": {"datum": 1.072}, "y": {"field": "v", "type": "quantitative"}}},
{"transform": [{"filter": "datum.v == -10 || datum.v == -5 || datum.v == 0 || datum.v == 5 || datum.v == 10 || datum.v == 15"}], "mark": {"type": "rule", "color": "black", "strokeWidth": 0.8}, "encoding": {"x": {"datum": -0.1, "type": "quantitative"}, "x2": {"datum": -0.072}, "y": {"field": "v", "type": "quantitative"}}},
{"transform": [{"filter": "datum.v == 0"}], "mark": {"type": "rule", "color": "black", "strokeWidth": 3, "strokeDash": [8, 5]}, "encoding": {"y": {"datum": 0, "type": "quantitative"}}},
{"transform": [{"filter": "datum.v == 0"}], "mark": {"type": "rule", "color": "#555", "strokeWidth": 1, "strokeDash": [7, 5]}, "encoding": {"y": {"datum": 2, "type": "quantitative"}}},
{"transform": [{"filter": "datum.v == 0"}], "mark": {"type": "rule", "color": "#555", "strokeWidth": 1, "strokeDash": [7, 5]}, "encoding": {"y": {"datum": -2, "type": "quantitative"}}},
{"transform": [{"filter": "datum.v == 0"}], "mark": {"type": "rule", "color": "black", "strokeWidth": 4.5, "strokeDash": [6, 5]}, "encoding": {"x": {"datum": 0.5, "type": "quantitative"}}},
{"transform": [{"filter": "datum.v == 0"}], "mark": {"type": "rect", "fill": "white", "stroke": "black", "strokeWidth": 1.2}, "encoding": {"x": {"datum": 1.077, "type": "quantitative"}, "x2": {"datum": 0.955}, "y": {"datum": 14.9, "type": "quantitative"}, "y2": {"datum": 8.4}}},
{"transform": [{"filter": "datum.v == 0"}], "mark": {"type": "rule", "color": "red", "strokeWidth": 1.5}, "encoding": {"x": {"datum": 1.022, "type": "quantitative"}, "y": {"datum": 8.9, "type": "quantitative"}, "y2": {"datum": 10.9}}},
{"transform": [{"filter": "datum.v == 0"}], "mark": {"type": "text", "angle": 270, "align": "center", "baseline": "middle", "fontSize": 6.5, "font": "Liberation Serif"}, "encoding": {"x": {"datum": 1.022, "type": "quantitative"}, "y": {"datum": 13.0, "type": "quantitative"}, "text": {"field": "n"}}}
]
}
}
